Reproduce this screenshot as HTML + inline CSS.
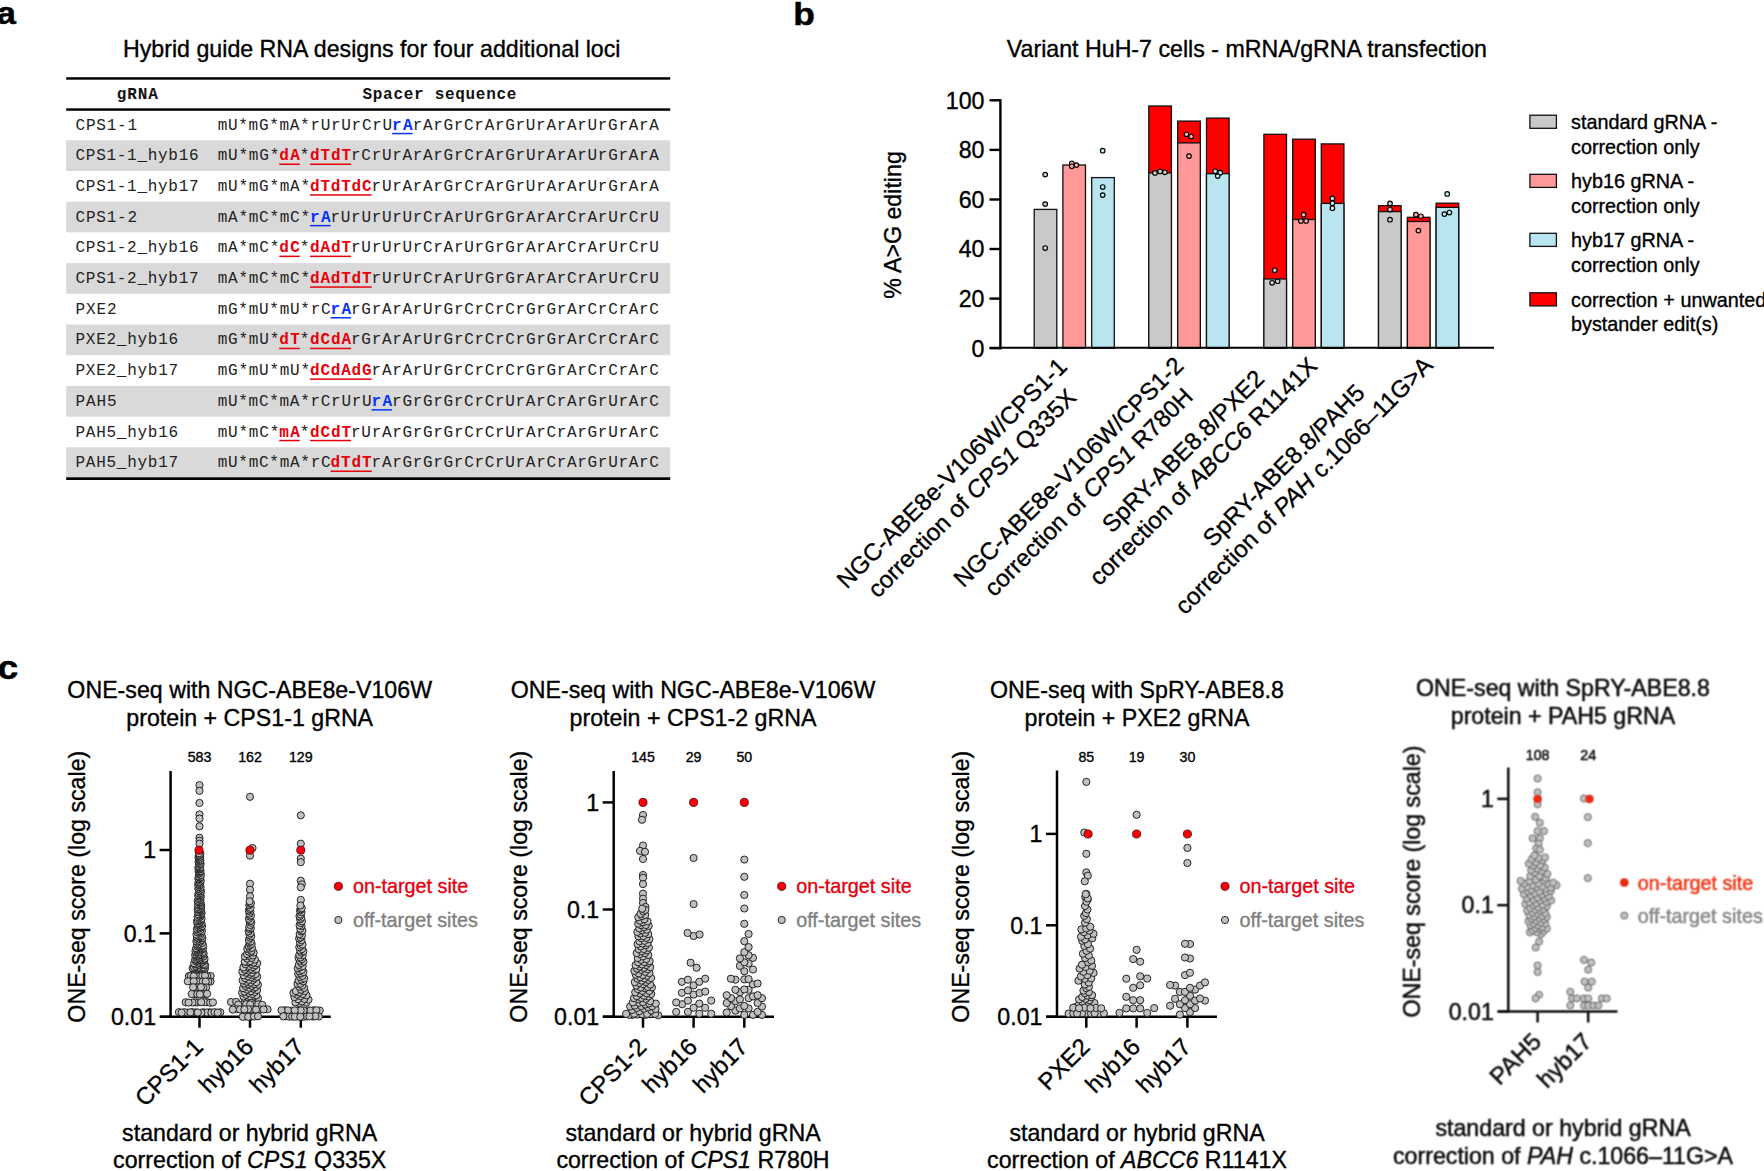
<!DOCTYPE html>
<html lang="en"><head><meta charset="utf-8"><title>Hybrid guide RNA designs</title>
<style>html,body{margin:0;padding:0;background:#fff;overflow:hidden}body{width:1764px;height:1171px}svg text{white-space:pre}.bl text{stroke-width:0.55px}</style></head>
<body>
<svg width="1764" height="1171" viewBox="0 0 1764 1171" font-family="Liberation Sans, Arial, Helvetica, sans-serif" style="display:block">
<defs><filter id="bl" x="-5%" y="-5%" width="110%" height="110%"><feConvolveMatrix order="3" kernelMatrix="1 2 1 2 5 2 1 2 1" divisor="17" edgeMode="none" preserveAlpha="false"/></filter></defs>
<rect width="1764" height="1171" fill="#fff"/>
<text transform="translate(-3.3 24.2) scale(1.13 1)" font-size="30.5" font-weight="bold" stroke="#000" stroke-width="0.5">a</text>
<text transform="translate(793.2 24.8) scale(1.13 1)" font-size="31.3" font-weight="bold" stroke="#000" stroke-width="0.5">b</text>
<text transform="translate(-2.6 678.9) scale(1.13 1)" font-size="33" font-weight="bold" stroke="#000" stroke-width="0.5">c</text>
<text x="123" y="56.9" font-size="23.2" text-anchor="start" fill="#000" stroke="#000" stroke-width="0.35" >Hybrid guide RNA designs for four additional loci</text>
<g font-family="Liberation Mono, Courier New, monospace" font-size="16.0">
<rect x="66.2" y="140.3" width="604.0" height="30.7" fill="#d9d9d9"/>
<rect x="66.2" y="201.7" width="604.0" height="30.7" fill="#d9d9d9"/>
<rect x="66.2" y="263.1" width="604.0" height="30.7" fill="#d9d9d9"/>
<rect x="66.2" y="324.5" width="604.0" height="30.7" fill="#d9d9d9"/>
<rect x="66.2" y="385.9" width="604.0" height="30.7" fill="#d9d9d9"/>
<rect x="66.2" y="447.3" width="604.0" height="30.7" fill="#d9d9d9"/>
<rect x="66.2" y="77.2" width="604.0" height="2.5" fill="#000"/>
<rect x="66.2" y="108.3" width="604.0" height="2.5" fill="#000"/>
<rect x="66.2" y="477.3" width="604.0" height="2.7" fill="#000"/>
<text x="116.8" y="98.6" font-weight="bold" textLength="41.04" fill="#111">gRNA</text>
<text x="362.5" y="98.6" font-weight="bold" textLength="153.90" fill="#111">Spacer sequence</text>
<text x="75.5" y="129.5" fill="#222" textLength="61.56">CPS1-1</text>
<text x="217.70" y="129.5" fill="#222" textLength="174.42">mU*mG*mA*rUrUrCrU</text>
<text x="392.12" y="129.5" fill="#0433ff" font-weight="bold" textLength="20.52">rA</text>
<rect x="392.12"  y="132.8" width="20.52" height="1.5" fill="#0433ff"/>
<text x="412.64" y="129.5" fill="#222" textLength="246.24">rArGrCrArGrUrArArUrGrArA</text>
<text x="75.5" y="160.2" fill="#222" textLength="123.12">CPS1-1_hyb16</text>
<text x="217.70" y="160.2" fill="#222" textLength="61.56">mU*mG*</text>
<text x="279.26" y="160.2" fill="#e8000b" font-weight="bold" textLength="20.52">dA</text>
<rect x="279.26"  y="163.5" width="20.52" height="1.5" fill="#e8000b"/>
<text x="299.78" y="160.2" fill="#222" textLength="10.26">*</text>
<text x="310.04" y="160.2" fill="#e8000b" font-weight="bold" textLength="41.04">dTdT</text>
<rect x="310.04"  y="163.5" width="41.04" height="1.5" fill="#e8000b"/>
<text x="351.08" y="160.2" fill="#222" textLength="307.80">rCrUrArArGrCrArGrUrArArUrGrArA</text>
<text x="75.5" y="190.9" fill="#222" textLength="123.12">CPS1-1_hyb17</text>
<text x="217.70" y="190.9" fill="#222" textLength="92.34">mU*mG*mA*</text>
<text x="310.04" y="190.9" fill="#e8000b" font-weight="bold" textLength="61.56">dTdTdC</text>
<rect x="310.04"  y="194.2" width="61.56" height="1.5" fill="#e8000b"/>
<text x="371.60" y="190.9" fill="#222" textLength="287.28">rUrArArGrCrArGrUrArArUrGrArA</text>
<text x="75.5" y="221.6" fill="#222" textLength="61.56">CPS1-2</text>
<text x="217.70" y="221.6" fill="#222" textLength="92.34">mA*mC*mC*</text>
<text x="310.04" y="221.6" fill="#0433ff" font-weight="bold" textLength="20.52">rA</text>
<rect x="310.04"  y="224.9" width="20.52" height="1.5" fill="#0433ff"/>
<text x="330.56" y="221.6" fill="#222" textLength="328.32">rUrUrUrUrCrArUrGrGrArArCrArUrCrU</text>
<text x="75.5" y="252.3" fill="#222" textLength="123.12">CPS1-2_hyb16</text>
<text x="217.70" y="252.3" fill="#222" textLength="61.56">mA*mC*</text>
<text x="279.26" y="252.3" fill="#e8000b" font-weight="bold" textLength="20.52">dC</text>
<rect x="279.26"  y="255.6" width="20.52" height="1.5" fill="#e8000b"/>
<text x="299.78" y="252.3" fill="#222" textLength="10.26">*</text>
<text x="310.04" y="252.3" fill="#e8000b" font-weight="bold" textLength="41.04">dAdT</text>
<rect x="310.04"  y="255.6" width="41.04" height="1.5" fill="#e8000b"/>
<text x="351.08" y="252.3" fill="#222" textLength="307.80">rUrUrUrCrArUrGrGrArArCrArUrCrU</text>
<text x="75.5" y="283.0" fill="#222" textLength="123.12">CPS1-2_hyb17</text>
<text x="217.70" y="283.0" fill="#222" textLength="92.34">mA*mC*mC*</text>
<text x="310.04" y="283.0" fill="#e8000b" font-weight="bold" textLength="61.56">dAdTdT</text>
<rect x="310.04"  y="286.3" width="61.56" height="1.5" fill="#e8000b"/>
<text x="371.60" y="283.0" fill="#222" textLength="287.28">rUrUrCrArUrGrGrArArCrArUrCrU</text>
<text x="75.5" y="313.7" fill="#222" textLength="41.04">PXE2</text>
<text x="217.70" y="313.7" fill="#222" textLength="112.86">mG*mU*mU*rC</text>
<text x="330.56" y="313.7" fill="#0433ff" font-weight="bold" textLength="20.52">rA</text>
<rect x="330.56"  y="317.0" width="20.52" height="1.5" fill="#0433ff"/>
<text x="351.08" y="313.7" fill="#222" textLength="307.80">rGrArArUrGrCrCrCrGrGrArCrCrArC</text>
<text x="75.5" y="344.4" fill="#222" textLength="102.60">PXE2_hyb16</text>
<text x="217.70" y="344.4" fill="#222" textLength="61.56">mG*mU*</text>
<text x="279.26" y="344.4" fill="#e8000b" font-weight="bold" textLength="20.52">dT</text>
<rect x="279.26"  y="347.7" width="20.52" height="1.5" fill="#e8000b"/>
<text x="299.78" y="344.4" fill="#222" textLength="10.26">*</text>
<text x="310.04" y="344.4" fill="#e8000b" font-weight="bold" textLength="41.04">dCdA</text>
<rect x="310.04"  y="347.7" width="41.04" height="1.5" fill="#e8000b"/>
<text x="351.08" y="344.4" fill="#222" textLength="307.80">rGrArArUrGrCrCrCrGrGrArCrCrArC</text>
<text x="75.5" y="375.1" fill="#222" textLength="102.60">PXE2_hyb17</text>
<text x="217.70" y="375.1" fill="#222" textLength="92.34">mG*mU*mU*</text>
<text x="310.04" y="375.1" fill="#e8000b" font-weight="bold" textLength="61.56">dCdAdG</text>
<rect x="310.04"  y="378.4" width="61.56" height="1.5" fill="#e8000b"/>
<text x="371.60" y="375.1" fill="#222" textLength="287.28">rArArUrGrCrCrCrGrGrArCrCrArC</text>
<text x="75.5" y="405.8" fill="#222" textLength="41.04">PAH5</text>
<text x="217.70" y="405.8" fill="#222" textLength="153.90">mU*mC*mA*rCrUrU</text>
<text x="371.60" y="405.8" fill="#0433ff" font-weight="bold" textLength="20.52">rA</text>
<rect x="371.60"  y="409.1" width="20.52" height="1.5" fill="#0433ff"/>
<text x="392.12" y="405.8" fill="#222" textLength="266.76">rGrGrGrCrCrUrArCrArGrUrArC</text>
<text x="75.5" y="436.5" fill="#222" textLength="102.60">PAH5_hyb16</text>
<text x="217.70" y="436.5" fill="#222" textLength="61.56">mU*mC*</text>
<text x="279.26" y="436.5" fill="#e8000b" font-weight="bold" textLength="20.52">mA</text>
<rect x="279.26"  y="439.8" width="20.52" height="1.5" fill="#e8000b"/>
<text x="299.78" y="436.5" fill="#222" textLength="10.26">*</text>
<text x="310.04" y="436.5" fill="#e8000b" font-weight="bold" textLength="41.04">dCdT</text>
<rect x="310.04"  y="439.8" width="41.04" height="1.5" fill="#e8000b"/>
<text x="351.08" y="436.5" fill="#222" textLength="307.80">rUrArGrGrGrCrCrUrArCrArGrUrArC</text>
<text x="75.5" y="467.2" fill="#222" textLength="102.60">PAH5_hyb17</text>
<text x="217.70" y="467.2" fill="#222" textLength="112.86">mU*mC*mA*rC</text>
<text x="330.56" y="467.2" fill="#e8000b" font-weight="bold" textLength="41.04">dTdT</text>
<rect x="330.56"  y="470.5" width="41.04" height="1.5" fill="#e8000b"/>
<text x="371.60" y="467.2" fill="#222" textLength="287.28">rArGrGrGrCrCrUrArCrArGrUrArC</text>
</g>
<text x="1006.8" y="56.9" font-size="23.2" text-anchor="start" fill="#000" stroke="#000" stroke-width="0.35" >Variant HuH-7 cells - mRNA/gRNA transfection</text>
<line x1="989.5" y1="348.2" x2="1000.4" y2="348.2" stroke="#000" stroke-width="2.4"/>
<text x="984.5" y="356.5" font-size="23.2" text-anchor="end" fill="#000" stroke="#000" stroke-width="0.35" >0</text>
<line x1="989.5" y1="298.6" x2="1000.4" y2="298.6" stroke="#000" stroke-width="2.4"/>
<text x="984.5" y="306.92" font-size="23.2" text-anchor="end" fill="#000" stroke="#000" stroke-width="0.35" >20</text>
<line x1="989.5" y1="249.0" x2="1000.4" y2="249.0" stroke="#000" stroke-width="2.4"/>
<text x="984.5" y="257.34" font-size="23.2" text-anchor="end" fill="#000" stroke="#000" stroke-width="0.35" >40</text>
<line x1="989.5" y1="199.5" x2="1000.4" y2="199.5" stroke="#000" stroke-width="2.4"/>
<text x="984.5" y="207.76" font-size="23.2" text-anchor="end" fill="#000" stroke="#000" stroke-width="0.35" >60</text>
<line x1="989.5" y1="149.9" x2="1000.4" y2="149.9" stroke="#000" stroke-width="2.4"/>
<text x="984.5" y="158.18" font-size="23.2" text-anchor="end" fill="#000" stroke="#000" stroke-width="0.35" >80</text>
<line x1="989.5" y1="100.3" x2="1000.4" y2="100.3" stroke="#000" stroke-width="2.4"/>
<text x="984.5" y="108.59999999999998" font-size="23.2" text-anchor="end" fill="#000" stroke="#000" stroke-width="0.35" >100</text>
<text x="901" y="225" font-size="23.2" text-anchor="middle" fill="#000" stroke="#000" stroke-width="0.35" transform="rotate(-90 901 225)" >% A&gt;G editing</text>
<rect x="1034.2" y="209.4" width="22.6" height="138.8" fill="#c9c9c9" stroke="#111" stroke-width="1.3"/>
<rect x="1062.9" y="165.0" width="22.6" height="183.2" fill="#ff9896" stroke="#111" stroke-width="1.3"/>
<rect x="1091.7" y="177.6" width="22.6" height="170.6" fill="#b9e5f0" stroke="#111" stroke-width="1.3"/>
<rect x="1148.8" y="106.0" width="22.6" height="242.2" fill="#ff0000" stroke="#111" stroke-width="1.3"/>
<rect x="1148.8" y="172.9" width="22.6" height="175.3" fill="#c9c9c9" stroke="#111" stroke-width="1.3"/>
<rect x="1177.7" y="121.1" width="22.6" height="227.1" fill="#ff0000" stroke="#111" stroke-width="1.3"/>
<rect x="1177.7" y="142.9" width="22.6" height="205.3" fill="#ff9896" stroke="#111" stroke-width="1.3"/>
<rect x="1206.5" y="118.1" width="22.6" height="230.1" fill="#ff0000" stroke="#111" stroke-width="1.3"/>
<rect x="1206.5" y="173.7" width="22.6" height="174.5" fill="#b9e5f0" stroke="#111" stroke-width="1.3"/>
<rect x="1263.9" y="134.3" width="22.6" height="213.9" fill="#ff0000" stroke="#111" stroke-width="1.3"/>
<rect x="1263.9" y="279.0" width="22.6" height="69.2" fill="#c9c9c9" stroke="#111" stroke-width="1.3"/>
<rect x="1292.7" y="139.2" width="22.6" height="209.0" fill="#ff0000" stroke="#111" stroke-width="1.3"/>
<rect x="1292.7" y="219.5" width="22.6" height="128.7" fill="#ff9896" stroke="#111" stroke-width="1.3"/>
<rect x="1321.3" y="143.9" width="22.6" height="204.3" fill="#ff0000" stroke="#111" stroke-width="1.3"/>
<rect x="1321.3" y="203.4" width="22.6" height="144.8" fill="#b9e5f0" stroke="#111" stroke-width="1.3"/>
<rect x="1378.5" y="205.7" width="22.6" height="142.5" fill="#ff0000" stroke="#111" stroke-width="1.3"/>
<rect x="1378.5" y="211.6" width="22.6" height="136.6" fill="#c9c9c9" stroke="#111" stroke-width="1.3"/>
<rect x="1407.4" y="217.3" width="22.6" height="130.9" fill="#ff0000" stroke="#111" stroke-width="1.3"/>
<rect x="1407.4" y="221.5" width="22.6" height="126.7" fill="#ff9896" stroke="#111" stroke-width="1.3"/>
<rect x="1436.1" y="203.2" width="22.6" height="145.0" fill="#ff0000" stroke="#111" stroke-width="1.3"/>
<rect x="1436.1" y="207.4" width="22.6" height="140.8" fill="#b9e5f0" stroke="#111" stroke-width="1.3"/>
<circle cx="1045.2" cy="174.6" r="2.3" fill="#d0d0d0" stroke="#000" stroke-width="1.15"/>
<circle cx="1045.2" cy="204.1" r="2.3" fill="#d0d0d0" stroke="#000" stroke-width="1.15"/>
<circle cx="1045.2" cy="248.0" r="2.3" fill="#d0d0d0" stroke="#000" stroke-width="1.15"/>
<circle cx="1155" cy="172.9" r="2.3" fill="#d0d0d0" stroke="#000" stroke-width="1.15"/>
<circle cx="1160.1" cy="171.4" r="2.3" fill="#d0d0d0" stroke="#000" stroke-width="1.15"/>
<circle cx="1164.9" cy="172.3" r="2.3" fill="#d0d0d0" stroke="#000" stroke-width="1.15"/>
<circle cx="1274.8" cy="270.3" r="2.3" fill="#d0d0d0" stroke="#000" stroke-width="1.15"/>
<circle cx="1272.1" cy="282.8" r="2.3" fill="#d0d0d0" stroke="#000" stroke-width="1.15"/>
<circle cx="1277.6" cy="281.2" r="2.3" fill="#d0d0d0" stroke="#000" stroke-width="1.15"/>
<circle cx="1390" cy="203.4" r="2.3" fill="#d0d0d0" stroke="#000" stroke-width="1.15"/>
<circle cx="1390" cy="209.5" r="2.3" fill="#d0d0d0" stroke="#000" stroke-width="1.15"/>
<circle cx="1390" cy="219.7" r="2.3" fill="#d0d0d0" stroke="#000" stroke-width="1.15"/>
<circle cx="1071.8" cy="163.3" r="2.3" fill="#ffa9a8" stroke="#000" stroke-width="1.15"/>
<circle cx="1076.4" cy="165.1" r="2.3" fill="#ffa9a8" stroke="#000" stroke-width="1.15"/>
<circle cx="1071.8" cy="166.3" r="2.3" fill="#ffa9a8" stroke="#000" stroke-width="1.15"/>
<circle cx="1186.5" cy="134.3" r="2.3" fill="#ffa9a8" stroke="#000" stroke-width="1.15"/>
<circle cx="1191.2" cy="136.5" r="2.3" fill="#ffa9a8" stroke="#000" stroke-width="1.15"/>
<circle cx="1189" cy="156.1" r="2.3" fill="#ffa9a8" stroke="#000" stroke-width="1.15"/>
<circle cx="1303.6" cy="214.7" r="2.3" fill="#ffa9a8" stroke="#000" stroke-width="1.15"/>
<circle cx="1300.9" cy="220.9" r="2.3" fill="#ffa9a8" stroke="#000" stroke-width="1.15"/>
<circle cx="1306.1" cy="220.9" r="2.3" fill="#ffa9a8" stroke="#000" stroke-width="1.15"/>
<circle cx="1415.9" cy="214.7" r="2.3" fill="#ffa9a8" stroke="#000" stroke-width="1.15"/>
<circle cx="1420.9" cy="216.3" r="2.3" fill="#ffa9a8" stroke="#000" stroke-width="1.15"/>
<circle cx="1418.4" cy="230.6" r="2.3" fill="#ffa9a8" stroke="#000" stroke-width="1.15"/>
<circle cx="1102.7" cy="150.7" r="2.3" fill="#c8ebf5" stroke="#000" stroke-width="1.15"/>
<circle cx="1102.7" cy="187" r="2.3" fill="#c8ebf5" stroke="#000" stroke-width="1.15"/>
<circle cx="1102.7" cy="195.1" r="2.3" fill="#c8ebf5" stroke="#000" stroke-width="1.15"/>
<circle cx="1215.2" cy="171.3" r="2.3" fill="#c8ebf5" stroke="#000" stroke-width="1.15"/>
<circle cx="1220.2" cy="172.7" r="2.3" fill="#c8ebf5" stroke="#000" stroke-width="1.15"/>
<circle cx="1217.7" cy="176.1" r="2.3" fill="#c8ebf5" stroke="#000" stroke-width="1.15"/>
<circle cx="1332.4" cy="198.4" r="2.3" fill="#c8ebf5" stroke="#000" stroke-width="1.15"/>
<circle cx="1332.4" cy="203.2" r="2.3" fill="#c8ebf5" stroke="#000" stroke-width="1.15"/>
<circle cx="1332.4" cy="208.2" r="2.3" fill="#c8ebf5" stroke="#000" stroke-width="1.15"/>
<circle cx="1444.4" cy="214.1" r="2.3" fill="#c8ebf5" stroke="#000" stroke-width="1.15"/>
<circle cx="1449.4" cy="212.5" r="2.3" fill="#c8ebf5" stroke="#000" stroke-width="1.15"/>
<circle cx="1447.2" cy="193.9" r="2.3" fill="#c8ebf5" stroke="#000" stroke-width="1.15"/>
<line x1="1000.4" y1="99.1" x2="1000.4" y2="349.4" stroke="#000" stroke-width="2.4"/>
<line x1="989.5" y1="347.7" x2="1494" y2="347.7" stroke="#000" stroke-width="2.1"/>
<rect x="1529.9" y="115.19999999999999" width="26.5" height="13.1" fill="#c9c9c9" stroke="#111" stroke-width="1.3"/>
<text x="1571" y="129.1" font-size="19.8" text-anchor="start" fill="#000" stroke="#000" stroke-width="0.35" >standard gRNA -</text>
<text x="1571" y="153.7" font-size="19.8" text-anchor="start" fill="#000" stroke="#000" stroke-width="0.35" >correction only</text>
<rect x="1529.9" y="174.29999999999998" width="26.5" height="13.1" fill="#ff9896" stroke="#111" stroke-width="1.3"/>
<text x="1571" y="188.2" font-size="19.8" text-anchor="start" fill="#000" stroke="#000" stroke-width="0.35" >hyb16 gRNA -</text>
<text x="1571" y="212.79999999999998" font-size="19.8" text-anchor="start" fill="#000" stroke="#000" stroke-width="0.35" >correction only</text>
<rect x="1529.9" y="233.29999999999998" width="26.5" height="13.1" fill="#b9e5f0" stroke="#111" stroke-width="1.3"/>
<text x="1571" y="247.2" font-size="19.8" text-anchor="start" fill="#000" stroke="#000" stroke-width="0.35" >hyb17 gRNA -</text>
<text x="1571" y="271.8" font-size="19.8" text-anchor="start" fill="#000" stroke="#000" stroke-width="0.35" >correction only</text>
<rect x="1529.9" y="292.8" width="26.5" height="13.1" fill="#ff0000" stroke="#111" stroke-width="1.3"/>
<text x="1571" y="306.7" font-size="19.8" text-anchor="start" fill="#000" stroke="#000" stroke-width="0.35" >correction + unwanted</text>
<text x="1571" y="331.3" font-size="19.8" text-anchor="start" fill="#000" stroke="#000" stroke-width="0.35" >bystander edit(s)</text>
<g transform="translate(1068.4 368.1) rotate(-45)" font-size="24" text-anchor="middle" stroke="#000" stroke-width="0.35">
<text x="-156.7" y="0">NGC-ABE8e-V106W/CPS1-1</text>
<text x="-156.7" y="28.4">correction of <tspan font-style="italic">CPS1</tspan> Q335X</text>
</g>
<g transform="translate(1185.0 367.0) rotate(-45)" font-size="24" text-anchor="middle" stroke="#000" stroke-width="0.35">
<text x="-156.7" y="0">NGC-ABE8e-V106W/CPS1-2</text>
<text x="-156.7" y="28.4">correction of <tspan font-style="italic">CPS1</tspan> R780H</text>
</g>
<g transform="translate(1298.6 347.3) rotate(-45)" font-size="24" text-anchor="middle" stroke="#000" stroke-width="0.35">
<text x="-155.2" y="0">SpRY-ABE8.8/PXE2</text>
<text x="-155.2" y="28.4">correction of <tspan font-style="italic">ABCC6</tspan> R1141X</text>
</g>
<g transform="translate(1413.9 346.7) rotate(-45)" font-size="24" text-anchor="middle" stroke="#000" stroke-width="0.35">
<text x="-176.0" y="0">SpRY-ABE8.8/PAH5</text>
<text x="-176.0" y="28.4">correction of <tspan font-style="italic">PAH</tspan> c.1066–11G&gt;A</text>
</g>
<g>
<text x="249.7" y="698" font-size="23.2" text-anchor="middle" fill="#000" stroke="#000" stroke-width="0.35" >ONE-seq with NGC-ABE8e-V106W</text>
<text x="249.7" y="725.8" font-size="23.2" text-anchor="middle" fill="#000" stroke="#000" stroke-width="0.35" >protein + CPS1-1 gRNA</text>
<text x="199.5" y="762" font-size="14.2" text-anchor="middle" fill="#000" stroke="#000" stroke-width="0.35" >583</text>
<text x="250.0" y="762" font-size="14.2" text-anchor="middle" fill="#000" stroke="#000" stroke-width="0.35" >162</text>
<text x="300.8" y="762" font-size="14.2" text-anchor="middle" fill="#000" stroke="#000" stroke-width="0.35" >129</text>
<text x="85" y="886.7" font-size="23.2" text-anchor="middle" fill="#000" stroke="#000" stroke-width="0.35" transform="rotate(-90 85 886.7)" >ONE-seq score (log scale)</text>
<line x1="159.6" y1="850.0" x2="170.6" y2="850.0" stroke="#000" stroke-width="2.5"/>
<text x="156.1" y="858.2" font-size="23.2" text-anchor="end" fill="#000" stroke="#000" stroke-width="0.35" >1</text>
<line x1="159.6" y1="933.4" x2="170.6" y2="933.4" stroke="#000" stroke-width="2.5"/>
<text x="156.1" y="941.6" font-size="23.2" text-anchor="end" fill="#000" stroke="#000" stroke-width="0.35" >0.1</text>
<line x1="159.6" y1="1016.8" x2="170.6" y2="1016.8" stroke="#000" stroke-width="2.5"/>
<text x="156.1" y="1025.0" font-size="23.2" text-anchor="end" fill="#000" stroke="#000" stroke-width="0.35" >0.01</text>
<line x1="170.6" y1="771" x2="170.6" y2="1017.95" stroke="#000" stroke-width="2.5"/>
<line x1="160.2" y1="1016.7" x2="330.8" y2="1016.7" stroke="#000" stroke-width="2.5"/>
<line x1="199.5" y1="1016.7" x2="199.5" y2="1027.7" stroke="#000" stroke-width="2.5"/>
<line x1="250.0" y1="1016.7" x2="250.0" y2="1027.7" stroke="#000" stroke-width="2.5"/>
<line x1="300.8" y1="1016.7" x2="300.8" y2="1027.7" stroke="#000" stroke-width="2.5"/>
<circle cx="199.5" cy="785.1" r="3.6" fill="#c0c0c0" stroke="#1a1a1a" stroke-width="0.95"/>
<circle cx="199.5" cy="790.8" r="3.6" fill="#c0c0c0" stroke="#1a1a1a" stroke-width="0.95"/>
<circle cx="199.5" cy="803.0" r="3.6" fill="#c0c0c0" stroke="#1a1a1a" stroke-width="0.95"/>
<circle cx="199.5" cy="814.4" r="3.6" fill="#c0c0c0" stroke="#1a1a1a" stroke-width="0.95"/>
<circle cx="199.5" cy="818.6" r="3.6" fill="#c0c0c0" stroke="#1a1a1a" stroke-width="0.95"/>
<circle cx="199.5" cy="826.3" r="3.6" fill="#c0c0c0" stroke="#1a1a1a" stroke-width="0.95"/>
<circle cx="199.5" cy="837.7" r="3.6" fill="#c0c0c0" stroke="#1a1a1a" stroke-width="0.95"/>
<circle cx="199.5" cy="840.7" r="3.6" fill="#c0c0c0" stroke="#1a1a1a" stroke-width="0.95"/>
<circle cx="199.5" cy="843.7" r="3.6" fill="#c0c0c0" stroke="#1a1a1a" stroke-width="0.95"/>
<circle cx="197.2" cy="971.6" r="3.6" fill="#c0c0c0" stroke="#1a1a1a" stroke-width="0.95"/>
<circle cx="193.9" cy="971.3" r="3.6" fill="#c0c0c0" stroke="#1a1a1a" stroke-width="0.95"/>
<circle cx="202.5" cy="971.1" r="3.6" fill="#c0c0c0" stroke="#1a1a1a" stroke-width="0.95"/>
<circle cx="199.2" cy="970.6" r="3.6" fill="#c0c0c0" stroke="#1a1a1a" stroke-width="0.95"/>
<circle cx="198.1" cy="970.1" r="3.6" fill="#c0c0c0" stroke="#1a1a1a" stroke-width="0.95"/>
<circle cx="203.0" cy="969.8" r="3.6" fill="#c0c0c0" stroke="#1a1a1a" stroke-width="0.95"/>
<circle cx="195.1" cy="969.6" r="3.6" fill="#c0c0c0" stroke="#1a1a1a" stroke-width="0.95"/>
<circle cx="195.9" cy="969.6" r="3.6" fill="#c0c0c0" stroke="#1a1a1a" stroke-width="0.95"/>
<circle cx="204.6" cy="969.5" r="3.6" fill="#c0c0c0" stroke="#1a1a1a" stroke-width="0.95"/>
<circle cx="199.9" cy="968.9" r="3.6" fill="#c0c0c0" stroke="#1a1a1a" stroke-width="0.95"/>
<circle cx="197.0" cy="968.4" r="3.6" fill="#c0c0c0" stroke="#1a1a1a" stroke-width="0.95"/>
<circle cx="201.3" cy="968.4" r="3.6" fill="#c0c0c0" stroke="#1a1a1a" stroke-width="0.95"/>
<circle cx="192.6" cy="968.2" r="3.6" fill="#c0c0c0" stroke="#1a1a1a" stroke-width="0.95"/>
<circle cx="204.8" cy="967.9" r="3.6" fill="#c0c0c0" stroke="#1a1a1a" stroke-width="0.95"/>
<circle cx="201.7" cy="967.9" r="3.6" fill="#c0c0c0" stroke="#1a1a1a" stroke-width="0.95"/>
<circle cx="198.8" cy="967.4" r="3.6" fill="#c0c0c0" stroke="#1a1a1a" stroke-width="0.95"/>
<circle cx="194.1" cy="967.3" r="3.6" fill="#c0c0c0" stroke="#1a1a1a" stroke-width="0.95"/>
<circle cx="203.5" cy="967.1" r="3.6" fill="#c0c0c0" stroke="#1a1a1a" stroke-width="0.95"/>
<circle cx="196.0" cy="966.4" r="3.6" fill="#c0c0c0" stroke="#1a1a1a" stroke-width="0.95"/>
<circle cx="200.6" cy="965.5" r="3.6" fill="#c0c0c0" stroke="#1a1a1a" stroke-width="0.95"/>
<circle cx="205.1" cy="965.2" r="3.6" fill="#c0c0c0" stroke="#1a1a1a" stroke-width="0.95"/>
<circle cx="197.8" cy="964.9" r="3.6" fill="#c0c0c0" stroke="#1a1a1a" stroke-width="0.95"/>
<circle cx="199.5" cy="964.7" r="3.6" fill="#c0c0c0" stroke="#1a1a1a" stroke-width="0.95"/>
<circle cx="202.3" cy="964.5" r="3.6" fill="#c0c0c0" stroke="#1a1a1a" stroke-width="0.95"/>
<circle cx="203.9" cy="964.3" r="3.6" fill="#c0c0c0" stroke="#1a1a1a" stroke-width="0.95"/>
<circle cx="195.0" cy="964.3" r="3.6" fill="#c0c0c0" stroke="#1a1a1a" stroke-width="0.95"/>
<circle cx="196.8" cy="963.9" r="3.6" fill="#c0c0c0" stroke="#1a1a1a" stroke-width="0.95"/>
<circle cx="194.2" cy="963.2" r="3.6" fill="#c0c0c0" stroke="#1a1a1a" stroke-width="0.95"/>
<circle cx="201.2" cy="963.0" r="3.6" fill="#c0c0c0" stroke="#1a1a1a" stroke-width="0.95"/>
<circle cx="198.5" cy="962.6" r="3.6" fill="#c0c0c0" stroke="#1a1a1a" stroke-width="0.95"/>
<circle cx="202.7" cy="961.7" r="3.6" fill="#c0c0c0" stroke="#1a1a1a" stroke-width="0.95"/>
<circle cx="195.9" cy="961.3" r="3.6" fill="#c0c0c0" stroke="#1a1a1a" stroke-width="0.95"/>
<circle cx="200.1" cy="960.7" r="3.6" fill="#c0c0c0" stroke="#1a1a1a" stroke-width="0.95"/>
<circle cx="197.6" cy="960.4" r="3.6" fill="#c0c0c0" stroke="#1a1a1a" stroke-width="0.95"/>
<circle cx="204.2" cy="960.3" r="3.6" fill="#c0c0c0" stroke="#1a1a1a" stroke-width="0.95"/>
<circle cx="201.7" cy="960.2" r="3.6" fill="#c0c0c0" stroke="#1a1a1a" stroke-width="0.95"/>
<circle cx="199.1" cy="959.8" r="3.6" fill="#c0c0c0" stroke="#1a1a1a" stroke-width="0.95"/>
<circle cx="195.1" cy="959.5" r="3.6" fill="#c0c0c0" stroke="#1a1a1a" stroke-width="0.95"/>
<circle cx="203.1" cy="959.5" r="3.6" fill="#c0c0c0" stroke="#1a1a1a" stroke-width="0.95"/>
<circle cx="196.7" cy="959.1" r="3.6" fill="#c0c0c0" stroke="#1a1a1a" stroke-width="0.95"/>
<circle cx="200.6" cy="958.8" r="3.6" fill="#c0c0c0" stroke="#1a1a1a" stroke-width="0.95"/>
<circle cx="204.5" cy="958.6" r="3.6" fill="#c0c0c0" stroke="#1a1a1a" stroke-width="0.95"/>
<circle cx="198.3" cy="958.1" r="3.6" fill="#c0c0c0" stroke="#1a1a1a" stroke-width="0.95"/>
<circle cx="202.1" cy="957.0" r="3.6" fill="#c0c0c0" stroke="#1a1a1a" stroke-width="0.95"/>
<circle cx="199.7" cy="956.9" r="3.6" fill="#c0c0c0" stroke="#1a1a1a" stroke-width="0.95"/>
<circle cx="195.9" cy="956.8" r="3.6" fill="#c0c0c0" stroke="#1a1a1a" stroke-width="0.95"/>
<circle cx="203.4" cy="956.3" r="3.6" fill="#c0c0c0" stroke="#1a1a1a" stroke-width="0.95"/>
<circle cx="197.4" cy="956.2" r="3.6" fill="#c0c0c0" stroke="#1a1a1a" stroke-width="0.95"/>
<circle cx="201.1" cy="955.1" r="3.6" fill="#c0c0c0" stroke="#1a1a1a" stroke-width="0.95"/>
<circle cx="195.2" cy="955.0" r="3.6" fill="#c0c0c0" stroke="#1a1a1a" stroke-width="0.95"/>
<circle cx="202.4" cy="954.7" r="3.6" fill="#c0c0c0" stroke="#1a1a1a" stroke-width="0.95"/>
<circle cx="196.7" cy="954.5" r="3.6" fill="#c0c0c0" stroke="#1a1a1a" stroke-width="0.95"/>
<circle cx="198.9" cy="954.5" r="3.6" fill="#c0c0c0" stroke="#1a1a1a" stroke-width="0.95"/>
<circle cx="200.2" cy="954.3" r="3.6" fill="#c0c0c0" stroke="#1a1a1a" stroke-width="0.95"/>
<circle cx="203.6" cy="953.4" r="3.6" fill="#c0c0c0" stroke="#1a1a1a" stroke-width="0.95"/>
<circle cx="201.5" cy="952.7" r="3.6" fill="#c0c0c0" stroke="#1a1a1a" stroke-width="0.95"/>
<circle cx="198.1" cy="952.5" r="3.6" fill="#c0c0c0" stroke="#1a1a1a" stroke-width="0.95"/>
<circle cx="202.7" cy="952.1" r="3.6" fill="#c0c0c0" stroke="#1a1a1a" stroke-width="0.95"/>
<circle cx="199.4" cy="952.0" r="3.6" fill="#c0c0c0" stroke="#1a1a1a" stroke-width="0.95"/>
<circle cx="196.0" cy="951.9" r="3.6" fill="#c0c0c0" stroke="#1a1a1a" stroke-width="0.95"/>
<circle cx="195.5" cy="950.9" r="3.6" fill="#c0c0c0" stroke="#1a1a1a" stroke-width="0.95"/>
<circle cx="197.4" cy="950.7" r="3.6" fill="#c0c0c0" stroke="#1a1a1a" stroke-width="0.95"/>
<circle cx="200.6" cy="950.5" r="3.6" fill="#c0c0c0" stroke="#1a1a1a" stroke-width="0.95"/>
<circle cx="198.7" cy="949.9" r="3.6" fill="#c0c0c0" stroke="#1a1a1a" stroke-width="0.95"/>
<circle cx="201.8" cy="949.6" r="3.6" fill="#c0c0c0" stroke="#1a1a1a" stroke-width="0.95"/>
<circle cx="196.8" cy="949.0" r="3.6" fill="#c0c0c0" stroke="#1a1a1a" stroke-width="0.95"/>
<circle cx="202.9" cy="948.7" r="3.6" fill="#c0c0c0" stroke="#1a1a1a" stroke-width="0.95"/>
<circle cx="201.0" cy="948.6" r="3.6" fill="#c0c0c0" stroke="#1a1a1a" stroke-width="0.95"/>
<circle cx="199.8" cy="948.6" r="3.6" fill="#c0c0c0" stroke="#1a1a1a" stroke-width="0.95"/>
<circle cx="198.0" cy="948.4" r="3.6" fill="#c0c0c0" stroke="#1a1a1a" stroke-width="0.95"/>
<circle cx="196.2" cy="948.1" r="3.6" fill="#c0c0c0" stroke="#1a1a1a" stroke-width="0.95"/>
<circle cx="199.1" cy="946.9" r="3.6" fill="#c0c0c0" stroke="#1a1a1a" stroke-width="0.95"/>
<circle cx="202.0" cy="946.8" r="3.6" fill="#c0c0c0" stroke="#1a1a1a" stroke-width="0.95"/>
<circle cx="197.4" cy="946.4" r="3.6" fill="#c0c0c0" stroke="#1a1a1a" stroke-width="0.95"/>
<circle cx="200.2" cy="946.0" r="3.6" fill="#c0c0c0" stroke="#1a1a1a" stroke-width="0.95"/>
<circle cx="198.5" cy="945.7" r="3.6" fill="#c0c0c0" stroke="#1a1a1a" stroke-width="0.95"/>
<circle cx="201.2" cy="945.6" r="3.6" fill="#c0c0c0" stroke="#1a1a1a" stroke-width="0.95"/>
<circle cx="203.0" cy="945.5" r="3.6" fill="#c0c0c0" stroke="#1a1a1a" stroke-width="0.95"/>
<circle cx="196.9" cy="944.1" r="3.6" fill="#c0c0c0" stroke="#1a1a1a" stroke-width="0.95"/>
<circle cx="199.6" cy="943.9" r="3.6" fill="#c0c0c0" stroke="#1a1a1a" stroke-width="0.95"/>
<circle cx="202.2" cy="943.0" r="3.6" fill="#c0c0c0" stroke="#1a1a1a" stroke-width="0.95"/>
<circle cx="197.9" cy="942.5" r="3.6" fill="#c0c0c0" stroke="#1a1a1a" stroke-width="0.95"/>
<circle cx="200.5" cy="941.7" r="3.6" fill="#c0c0c0" stroke="#1a1a1a" stroke-width="0.95"/>
<circle cx="196.4" cy="941.2" r="3.6" fill="#c0c0c0" stroke="#1a1a1a" stroke-width="0.95"/>
<circle cx="199.0" cy="940.9" r="3.6" fill="#c0c0c0" stroke="#1a1a1a" stroke-width="0.95"/>
<circle cx="201.5" cy="940.1" r="3.6" fill="#c0c0c0" stroke="#1a1a1a" stroke-width="0.95"/>
<circle cx="197.4" cy="939.6" r="3.6" fill="#c0c0c0" stroke="#1a1a1a" stroke-width="0.95"/>
<circle cx="199.9" cy="938.8" r="3.6" fill="#c0c0c0" stroke="#1a1a1a" stroke-width="0.95"/>
<circle cx="198.4" cy="938.3" r="3.6" fill="#c0c0c0" stroke="#1a1a1a" stroke-width="0.95"/>
<circle cx="202.4" cy="938.2" r="3.6" fill="#c0c0c0" stroke="#1a1a1a" stroke-width="0.95"/>
<circle cx="200.8" cy="937.0" r="3.6" fill="#c0c0c0" stroke="#1a1a1a" stroke-width="0.95"/>
<circle cx="196.9" cy="936.8" r="3.6" fill="#c0c0c0" stroke="#1a1a1a" stroke-width="0.95"/>
<circle cx="199.3" cy="936.2" r="3.6" fill="#c0c0c0" stroke="#1a1a1a" stroke-width="0.95"/>
<circle cx="201.7" cy="936.1" r="3.6" fill="#c0c0c0" stroke="#1a1a1a" stroke-width="0.95"/>
<circle cx="197.9" cy="935.5" r="3.6" fill="#c0c0c0" stroke="#1a1a1a" stroke-width="0.95"/>
<circle cx="200.2" cy="934.8" r="3.6" fill="#c0c0c0" stroke="#1a1a1a" stroke-width="0.95"/>
<circle cx="196.5" cy="934.4" r="3.6" fill="#c0c0c0" stroke="#1a1a1a" stroke-width="0.95"/>
<circle cx="201.1" cy="932.9" r="3.6" fill="#c0c0c0" stroke="#1a1a1a" stroke-width="0.95"/>
<circle cx="198.8" cy="932.8" r="3.6" fill="#c0c0c0" stroke="#1a1a1a" stroke-width="0.95"/>
<circle cx="197.4" cy="932.2" r="3.6" fill="#c0c0c0" stroke="#1a1a1a" stroke-width="0.95"/>
<circle cx="199.7" cy="931.5" r="3.6" fill="#c0c0c0" stroke="#1a1a1a" stroke-width="0.95"/>
<circle cx="201.9" cy="931.1" r="3.6" fill="#c0c0c0" stroke="#1a1a1a" stroke-width="0.95"/>
<circle cx="198.3" cy="930.8" r="3.6" fill="#c0c0c0" stroke="#1a1a1a" stroke-width="0.95"/>
<circle cx="200.5" cy="929.8" r="3.6" fill="#c0c0c0" stroke="#1a1a1a" stroke-width="0.95"/>
<circle cx="197.0" cy="928.9" r="3.6" fill="#c0c0c0" stroke="#1a1a1a" stroke-width="0.95"/>
<circle cx="199.2" cy="928.4" r="3.6" fill="#c0c0c0" stroke="#1a1a1a" stroke-width="0.95"/>
<circle cx="201.3" cy="927.3" r="3.6" fill="#c0c0c0" stroke="#1a1a1a" stroke-width="0.95"/>
<circle cx="197.9" cy="927.0" r="3.6" fill="#c0c0c0" stroke="#1a1a1a" stroke-width="0.95"/>
<circle cx="200.0" cy="926.8" r="3.6" fill="#c0c0c0" stroke="#1a1a1a" stroke-width="0.95"/>
<circle cx="202.0" cy="926.1" r="3.6" fill="#c0c0c0" stroke="#1a1a1a" stroke-width="0.95"/>
<circle cx="198.7" cy="925.2" r="3.6" fill="#c0c0c0" stroke="#1a1a1a" stroke-width="0.95"/>
<circle cx="200.7" cy="924.6" r="3.6" fill="#c0c0c0" stroke="#1a1a1a" stroke-width="0.95"/>
<circle cx="197.5" cy="923.9" r="3.6" fill="#c0c0c0" stroke="#1a1a1a" stroke-width="0.95"/>
<circle cx="201.4" cy="923.6" r="3.6" fill="#c0c0c0" stroke="#1a1a1a" stroke-width="0.95"/>
<circle cx="199.5" cy="923.3" r="3.6" fill="#c0c0c0" stroke="#1a1a1a" stroke-width="0.95"/>
<circle cx="198.3" cy="923.0" r="3.6" fill="#c0c0c0" stroke="#1a1a1a" stroke-width="0.95"/>
<circle cx="200.2" cy="921.7" r="3.6" fill="#c0c0c0" stroke="#1a1a1a" stroke-width="0.95"/>
<circle cx="197.1" cy="921.2" r="3.6" fill="#c0c0c0" stroke="#1a1a1a" stroke-width="0.95"/>
<circle cx="200.9" cy="920.5" r="3.6" fill="#c0c0c0" stroke="#1a1a1a" stroke-width="0.95"/>
<circle cx="199.0" cy="920.4" r="3.6" fill="#c0c0c0" stroke="#1a1a1a" stroke-width="0.95"/>
<circle cx="197.9" cy="919.9" r="3.6" fill="#c0c0c0" stroke="#1a1a1a" stroke-width="0.95"/>
<circle cx="199.7" cy="919.4" r="3.6" fill="#c0c0c0" stroke="#1a1a1a" stroke-width="0.95"/>
<circle cx="201.6" cy="918.4" r="3.6" fill="#c0c0c0" stroke="#1a1a1a" stroke-width="0.95"/>
<circle cx="198.6" cy="917.6" r="3.6" fill="#c0c0c0" stroke="#1a1a1a" stroke-width="0.95"/>
<circle cx="197.6" cy="916.9" r="3.6" fill="#c0c0c0" stroke="#1a1a1a" stroke-width="0.95"/>
<circle cx="200.4" cy="916.6" r="3.6" fill="#c0c0c0" stroke="#1a1a1a" stroke-width="0.95"/>
<circle cx="199.3" cy="915.8" r="3.6" fill="#c0c0c0" stroke="#1a1a1a" stroke-width="0.95"/>
<circle cx="201.0" cy="915.0" r="3.6" fill="#c0c0c0" stroke="#1a1a1a" stroke-width="0.95"/>
<circle cx="200.0" cy="914.4" r="3.6" fill="#c0c0c0" stroke="#1a1a1a" stroke-width="0.95"/>
<circle cx="198.3" cy="914.3" r="3.6" fill="#c0c0c0" stroke="#1a1a1a" stroke-width="0.95"/>
<circle cx="201.6" cy="913.0" r="3.6" fill="#c0c0c0" stroke="#1a1a1a" stroke-width="0.95"/>
<circle cx="198.9" cy="912.4" r="3.6" fill="#c0c0c0" stroke="#1a1a1a" stroke-width="0.95"/>
<circle cx="200.6" cy="911.9" r="3.6" fill="#c0c0c0" stroke="#1a1a1a" stroke-width="0.95"/>
<circle cx="198.0" cy="911.7" r="3.6" fill="#c0c0c0" stroke="#1a1a1a" stroke-width="0.95"/>
<circle cx="201.1" cy="910.7" r="3.6" fill="#c0c0c0" stroke="#1a1a1a" stroke-width="0.95"/>
<circle cx="199.6" cy="910.5" r="3.6" fill="#c0c0c0" stroke="#1a1a1a" stroke-width="0.95"/>
<circle cx="198.6" cy="909.8" r="3.6" fill="#c0c0c0" stroke="#1a1a1a" stroke-width="0.95"/>
<circle cx="197.7" cy="909.1" r="3.6" fill="#c0c0c0" stroke="#1a1a1a" stroke-width="0.95"/>
<circle cx="200.1" cy="909.0" r="3.6" fill="#c0c0c0" stroke="#1a1a1a" stroke-width="0.95"/>
<circle cx="199.2" cy="908.7" r="3.6" fill="#c0c0c0" stroke="#1a1a1a" stroke-width="0.95"/>
<circle cx="200.7" cy="907.7" r="3.6" fill="#c0c0c0" stroke="#1a1a1a" stroke-width="0.95"/>
<circle cx="198.3" cy="907.1" r="3.6" fill="#c0c0c0" stroke="#1a1a1a" stroke-width="0.95"/>
<circle cx="201.2" cy="905.9" r="3.6" fill="#c0c0c0" stroke="#1a1a1a" stroke-width="0.95"/>
<circle cx="199.8" cy="905.8" r="3.6" fill="#c0c0c0" stroke="#1a1a1a" stroke-width="0.95"/>
<circle cx="198.9" cy="905.1" r="3.6" fill="#c0c0c0" stroke="#1a1a1a" stroke-width="0.95"/>
<circle cx="200.3" cy="905.0" r="3.6" fill="#c0c0c0" stroke="#1a1a1a" stroke-width="0.95"/>
<circle cx="198.1" cy="904.3" r="3.6" fill="#c0c0c0" stroke="#1a1a1a" stroke-width="0.95"/>
<circle cx="199.4" cy="903.2" r="3.6" fill="#c0c0c0" stroke="#1a1a1a" stroke-width="0.95"/>
<circle cx="200.7" cy="902.8" r="3.6" fill="#c0c0c0" stroke="#1a1a1a" stroke-width="0.95"/>
<circle cx="198.6" cy="902.2" r="3.6" fill="#c0c0c0" stroke="#1a1a1a" stroke-width="0.95"/>
<circle cx="199.9" cy="901.7" r="3.6" fill="#c0c0c0" stroke="#1a1a1a" stroke-width="0.95"/>
<circle cx="199.2" cy="900.8" r="3.6" fill="#c0c0c0" stroke="#1a1a1a" stroke-width="0.95"/>
<circle cx="197.9" cy="900.7" r="3.6" fill="#c0c0c0" stroke="#1a1a1a" stroke-width="0.95"/>
<circle cx="200.4" cy="899.7" r="3.6" fill="#c0c0c0" stroke="#1a1a1a" stroke-width="0.95"/>
<circle cx="198.4" cy="899.1" r="3.6" fill="#c0c0c0" stroke="#1a1a1a" stroke-width="0.95"/>
<circle cx="199.6" cy="898.2" r="3.6" fill="#c0c0c0" stroke="#1a1a1a" stroke-width="0.95"/>
<circle cx="200.8" cy="896.7" r="3.6" fill="#c0c0c0" stroke="#1a1a1a" stroke-width="0.95"/>
<circle cx="198.9" cy="896.5" r="3.6" fill="#c0c0c0" stroke="#1a1a1a" stroke-width="0.95"/>
<circle cx="200.1" cy="895.3" r="3.6" fill="#c0c0c0" stroke="#1a1a1a" stroke-width="0.95"/>
<circle cx="198.2" cy="895.2" r="3.6" fill="#c0c0c0" stroke="#1a1a1a" stroke-width="0.95"/>
<circle cx="199.3" cy="894.0" r="3.6" fill="#c0c0c0" stroke="#1a1a1a" stroke-width="0.95"/>
<circle cx="198.6" cy="893.1" r="3.6" fill="#c0c0c0" stroke="#1a1a1a" stroke-width="0.95"/>
<circle cx="200.5" cy="892.9" r="3.6" fill="#c0c0c0" stroke="#1a1a1a" stroke-width="0.95"/>
<circle cx="199.8" cy="891.5" r="3.6" fill="#c0c0c0" stroke="#1a1a1a" stroke-width="0.95"/>
<circle cx="200.9" cy="891.3" r="3.6" fill="#c0c0c0" stroke="#1a1a1a" stroke-width="0.95"/>
<circle cx="199.1" cy="890.7" r="3.6" fill="#c0c0c0" stroke="#1a1a1a" stroke-width="0.95"/>
<circle cx="200.2" cy="889.5" r="3.6" fill="#c0c0c0" stroke="#1a1a1a" stroke-width="0.95"/>
<circle cx="198.4" cy="888.7" r="3.6" fill="#c0c0c0" stroke="#1a1a1a" stroke-width="0.95"/>
<circle cx="199.5" cy="887.6" r="3.6" fill="#c0c0c0" stroke="#1a1a1a" stroke-width="0.95"/>
<circle cx="200.6" cy="887.3" r="3.6" fill="#c0c0c0" stroke="#1a1a1a" stroke-width="0.95"/>
<circle cx="198.8" cy="886.6" r="3.6" fill="#c0c0c0" stroke="#1a1a1a" stroke-width="0.95"/>
<circle cx="199.9" cy="885.3" r="3.6" fill="#c0c0c0" stroke="#1a1a1a" stroke-width="0.95"/>
<circle cx="198.2" cy="884.7" r="3.6" fill="#c0c0c0" stroke="#1a1a1a" stroke-width="0.95"/>
<circle cx="199.3" cy="884.0" r="3.6" fill="#c0c0c0" stroke="#1a1a1a" stroke-width="0.95"/>
<circle cx="200.3" cy="882.9" r="3.6" fill="#c0c0c0" stroke="#1a1a1a" stroke-width="0.95"/>
<circle cx="198.6" cy="882.3" r="3.6" fill="#c0c0c0" stroke="#1a1a1a" stroke-width="0.95"/>
<circle cx="199.7" cy="881.8" r="3.6" fill="#c0c0c0" stroke="#1a1a1a" stroke-width="0.95"/>
<circle cx="200.7" cy="880.5" r="3.6" fill="#c0c0c0" stroke="#1a1a1a" stroke-width="0.95"/>
<circle cx="199.0" cy="879.5" r="3.6" fill="#c0c0c0" stroke="#1a1a1a" stroke-width="0.95"/>
<circle cx="200.0" cy="878.7" r="3.6" fill="#c0c0c0" stroke="#1a1a1a" stroke-width="0.95"/>
<circle cx="198.4" cy="878.5" r="3.6" fill="#c0c0c0" stroke="#1a1a1a" stroke-width="0.95"/>
<circle cx="199.4" cy="877.5" r="3.6" fill="#c0c0c0" stroke="#1a1a1a" stroke-width="0.95"/>
<circle cx="200.4" cy="877.1" r="3.6" fill="#c0c0c0" stroke="#1a1a1a" stroke-width="0.95"/>
<circle cx="198.8" cy="876.2" r="3.6" fill="#c0c0c0" stroke="#1a1a1a" stroke-width="0.95"/>
<circle cx="199.8" cy="874.9" r="3.6" fill="#c0c0c0" stroke="#1a1a1a" stroke-width="0.95"/>
<circle cx="200.8" cy="874.9" r="3.6" fill="#c0c0c0" stroke="#1a1a1a" stroke-width="0.95"/>
<circle cx="199.2" cy="873.5" r="3.6" fill="#c0c0c0" stroke="#1a1a1a" stroke-width="0.95"/>
<circle cx="200.2" cy="872.5" r="3.6" fill="#c0c0c0" stroke="#1a1a1a" stroke-width="0.95"/>
<circle cx="198.6" cy="871.8" r="3.6" fill="#c0c0c0" stroke="#1a1a1a" stroke-width="0.95"/>
<circle cx="199.6" cy="871.2" r="3.6" fill="#c0c0c0" stroke="#1a1a1a" stroke-width="0.95"/>
<circle cx="200.5" cy="871.1" r="3.6" fill="#c0c0c0" stroke="#1a1a1a" stroke-width="0.95"/>
<circle cx="199.9" cy="869.6" r="3.6" fill="#c0c0c0" stroke="#1a1a1a" stroke-width="0.95"/>
<circle cx="199.0" cy="869.3" r="3.6" fill="#c0c0c0" stroke="#1a1a1a" stroke-width="0.95"/>
<circle cx="198.4" cy="868.2" r="3.6" fill="#c0c0c0" stroke="#1a1a1a" stroke-width="0.95"/>
<circle cx="199.3" cy="867.6" r="3.6" fill="#c0c0c0" stroke="#1a1a1a" stroke-width="0.95"/>
<circle cx="200.2" cy="867.2" r="3.6" fill="#c0c0c0" stroke="#1a1a1a" stroke-width="0.95"/>
<circle cx="198.8" cy="866.1" r="3.6" fill="#c0c0c0" stroke="#1a1a1a" stroke-width="0.95"/>
<circle cx="199.7" cy="864.8" r="3.6" fill="#c0c0c0" stroke="#1a1a1a" stroke-width="0.95"/>
<circle cx="199.1" cy="864.0" r="3.6" fill="#c0c0c0" stroke="#1a1a1a" stroke-width="0.95"/>
<circle cx="200.6" cy="863.9" r="3.6" fill="#c0c0c0" stroke="#1a1a1a" stroke-width="0.95"/>
<circle cx="200.0" cy="862.7" r="3.6" fill="#c0c0c0" stroke="#1a1a1a" stroke-width="0.95"/>
<circle cx="198.6" cy="861.5" r="3.6" fill="#c0c0c0" stroke="#1a1a1a" stroke-width="0.95"/>
<circle cx="199.5" cy="860.7" r="3.6" fill="#c0c0c0" stroke="#1a1a1a" stroke-width="0.95"/>
<circle cx="200.3" cy="860.4" r="3.6" fill="#c0c0c0" stroke="#1a1a1a" stroke-width="0.95"/>
<circle cx="199.0" cy="859.1" r="3.6" fill="#c0c0c0" stroke="#1a1a1a" stroke-width="0.95"/>
<circle cx="199.8" cy="858.9" r="3.6" fill="#c0c0c0" stroke="#1a1a1a" stroke-width="0.95"/>
<circle cx="198.5" cy="857.6" r="3.6" fill="#c0c0c0" stroke="#1a1a1a" stroke-width="0.95"/>
<circle cx="199.3" cy="857.1" r="3.6" fill="#c0c0c0" stroke="#1a1a1a" stroke-width="0.95"/>
<circle cx="200.1" cy="856.6" r="3.6" fill="#c0c0c0" stroke="#1a1a1a" stroke-width="0.95"/>
<circle cx="198.8" cy="855.2" r="3.6" fill="#c0c0c0" stroke="#1a1a1a" stroke-width="0.95"/>
<circle cx="199.6" cy="855.1" r="3.6" fill="#c0c0c0" stroke="#1a1a1a" stroke-width="0.95"/>
<circle cx="200.4" cy="853.8" r="3.6" fill="#c0c0c0" stroke="#1a1a1a" stroke-width="0.95"/>
<circle cx="199.1" cy="853.2" r="3.6" fill="#c0c0c0" stroke="#1a1a1a" stroke-width="0.95"/>
<circle cx="210.6" cy="976.0" r="3.6" fill="#c0c0c0" stroke="#1a1a1a" stroke-width="0.95"/>
<circle cx="197.1" cy="975.8" r="3.6" fill="#c0c0c0" stroke="#1a1a1a" stroke-width="0.95"/>
<circle cx="199.8" cy="976.3" r="3.6" fill="#c0c0c0" stroke="#1a1a1a" stroke-width="0.95"/>
<circle cx="188.9" cy="976.1" r="3.6" fill="#c0c0c0" stroke="#1a1a1a" stroke-width="0.95"/>
<circle cx="202.4" cy="975.9" r="3.6" fill="#c0c0c0" stroke="#1a1a1a" stroke-width="0.95"/>
<circle cx="190.9" cy="975.8" r="3.6" fill="#c0c0c0" stroke="#1a1a1a" stroke-width="0.95"/>
<circle cx="207.3" cy="976.3" r="3.6" fill="#c0c0c0" stroke="#1a1a1a" stroke-width="0.95"/>
<circle cx="205.0" cy="975.8" r="3.6" fill="#c0c0c0" stroke="#1a1a1a" stroke-width="0.95"/>
<circle cx="193.7" cy="976.2" r="3.6" fill="#c0c0c0" stroke="#1a1a1a" stroke-width="0.95"/>
<circle cx="210.5" cy="981.5" r="3.6" fill="#c0c0c0" stroke="#1a1a1a" stroke-width="0.95"/>
<circle cx="208.2" cy="981.5" r="3.6" fill="#c0c0c0" stroke="#1a1a1a" stroke-width="0.95"/>
<circle cx="197.0" cy="981.4" r="3.6" fill="#c0c0c0" stroke="#1a1a1a" stroke-width="0.95"/>
<circle cx="199.5" cy="981.6" r="3.6" fill="#c0c0c0" stroke="#1a1a1a" stroke-width="0.95"/>
<circle cx="202.8" cy="981.5" r="3.6" fill="#c0c0c0" stroke="#1a1a1a" stroke-width="0.95"/>
<circle cx="191.0" cy="981.4" r="3.6" fill="#c0c0c0" stroke="#1a1a1a" stroke-width="0.95"/>
<circle cx="205.7" cy="981.5" r="3.6" fill="#c0c0c0" stroke="#1a1a1a" stroke-width="0.95"/>
<circle cx="187.8" cy="981.3" r="3.6" fill="#c0c0c0" stroke="#1a1a1a" stroke-width="0.95"/>
<circle cx="193.7" cy="981.3" r="3.6" fill="#c0c0c0" stroke="#1a1a1a" stroke-width="0.95"/>
<circle cx="195.6" cy="987.4" r="3.6" fill="#c0c0c0" stroke="#1a1a1a" stroke-width="0.95"/>
<circle cx="206.0" cy="987.4" r="3.6" fill="#c0c0c0" stroke="#1a1a1a" stroke-width="0.95"/>
<circle cx="203.2" cy="987.6" r="3.6" fill="#c0c0c0" stroke="#1a1a1a" stroke-width="0.95"/>
<circle cx="198.5" cy="987.2" r="3.6" fill="#c0c0c0" stroke="#1a1a1a" stroke-width="0.95"/>
<circle cx="200.9" cy="987.2" r="3.6" fill="#c0c0c0" stroke="#1a1a1a" stroke-width="0.95"/>
<circle cx="193.1" cy="987.3" r="3.6" fill="#c0c0c0" stroke="#1a1a1a" stroke-width="0.95"/>
<circle cx="205.3" cy="994.2" r="3.6" fill="#c0c0c0" stroke="#1a1a1a" stroke-width="0.95"/>
<circle cx="201.9" cy="994.0" r="3.6" fill="#c0c0c0" stroke="#1a1a1a" stroke-width="0.95"/>
<circle cx="207.1" cy="993.8" r="3.6" fill="#c0c0c0" stroke="#1a1a1a" stroke-width="0.95"/>
<circle cx="194.2" cy="994.0" r="3.6" fill="#c0c0c0" stroke="#1a1a1a" stroke-width="0.95"/>
<circle cx="191.7" cy="994.0" r="3.6" fill="#c0c0c0" stroke="#1a1a1a" stroke-width="0.95"/>
<circle cx="197.3" cy="994.1" r="3.6" fill="#c0c0c0" stroke="#1a1a1a" stroke-width="0.95"/>
<circle cx="199.9" cy="994.3" r="3.6" fill="#c0c0c0" stroke="#1a1a1a" stroke-width="0.95"/>
<circle cx="197.6" cy="1002.4" r="3.6" fill="#c0c0c0" stroke="#1a1a1a" stroke-width="0.95"/>
<circle cx="207.2" cy="1002.2" r="3.6" fill="#c0c0c0" stroke="#1a1a1a" stroke-width="0.95"/>
<circle cx="194.9" cy="1002.3" r="3.6" fill="#c0c0c0" stroke="#1a1a1a" stroke-width="0.95"/>
<circle cx="204.4" cy="1002.2" r="3.6" fill="#c0c0c0" stroke="#1a1a1a" stroke-width="0.95"/>
<circle cx="185.7" cy="1002.3" r="3.6" fill="#c0c0c0" stroke="#1a1a1a" stroke-width="0.95"/>
<circle cx="192.4" cy="1002.5" r="3.6" fill="#c0c0c0" stroke="#1a1a1a" stroke-width="0.95"/>
<circle cx="210.2" cy="1002.7" r="3.6" fill="#c0c0c0" stroke="#1a1a1a" stroke-width="0.95"/>
<circle cx="188.6" cy="1002.6" r="3.6" fill="#c0c0c0" stroke="#1a1a1a" stroke-width="0.95"/>
<circle cx="212.9" cy="1002.4" r="3.6" fill="#c0c0c0" stroke="#1a1a1a" stroke-width="0.95"/>
<circle cx="201.2" cy="1002.2" r="3.6" fill="#c0c0c0" stroke="#1a1a1a" stroke-width="0.95"/>
<circle cx="203.4" cy="1012.3" r="3.6" fill="#c0c0c0" stroke="#1a1a1a" stroke-width="0.95"/>
<circle cx="187.7" cy="1012.7" r="3.6" fill="#c0c0c0" stroke="#1a1a1a" stroke-width="0.95"/>
<circle cx="209.3" cy="1012.3" r="3.6" fill="#c0c0c0" stroke="#1a1a1a" stroke-width="0.95"/>
<circle cx="206.8" cy="1012.5" r="3.6" fill="#c0c0c0" stroke="#1a1a1a" stroke-width="0.95"/>
<circle cx="211.4" cy="1012.6" r="3.6" fill="#c0c0c0" stroke="#1a1a1a" stroke-width="0.95"/>
<circle cx="214.5" cy="1012.2" r="3.6" fill="#c0c0c0" stroke="#1a1a1a" stroke-width="0.95"/>
<circle cx="184.5" cy="1012.2" r="3.6" fill="#c0c0c0" stroke="#1a1a1a" stroke-width="0.95"/>
<circle cx="195.7" cy="1012.4" r="3.6" fill="#c0c0c0" stroke="#1a1a1a" stroke-width="0.95"/>
<circle cx="201.3" cy="1012.7" r="3.6" fill="#c0c0c0" stroke="#1a1a1a" stroke-width="0.95"/>
<circle cx="192.4" cy="1012.2" r="3.6" fill="#c0c0c0" stroke="#1a1a1a" stroke-width="0.95"/>
<circle cx="178.9" cy="1012.2" r="3.6" fill="#c0c0c0" stroke="#1a1a1a" stroke-width="0.95"/>
<circle cx="220.3" cy="1012.3" r="3.6" fill="#c0c0c0" stroke="#1a1a1a" stroke-width="0.95"/>
<circle cx="217.7" cy="1012.6" r="3.6" fill="#c0c0c0" stroke="#1a1a1a" stroke-width="0.95"/>
<circle cx="190.4" cy="1012.3" r="3.6" fill="#c0c0c0" stroke="#1a1a1a" stroke-width="0.95"/>
<circle cx="181.6" cy="1012.6" r="3.6" fill="#c0c0c0" stroke="#1a1a1a" stroke-width="0.95"/>
<circle cx="197.8" cy="1012.5" r="3.6" fill="#c0c0c0" stroke="#1a1a1a" stroke-width="0.95"/>
<circle cx="250.0" cy="796.8" r="3.6" fill="#c0c0c0" stroke="#1a1a1a" stroke-width="0.95"/>
<circle cx="252.5" cy="848.0" r="3.6" fill="#c0c0c0" stroke="#1a1a1a" stroke-width="0.95"/>
<circle cx="250.0" cy="855.6" r="3.6" fill="#c0c0c0" stroke="#1a1a1a" stroke-width="0.95"/>
<circle cx="250.0" cy="883.7" r="3.6" fill="#c0c0c0" stroke="#1a1a1a" stroke-width="0.95"/>
<circle cx="250.0" cy="889.7" r="3.6" fill="#c0c0c0" stroke="#1a1a1a" stroke-width="0.95"/>
<circle cx="250.0" cy="896.3" r="3.6" fill="#c0c0c0" stroke="#1a1a1a" stroke-width="0.95"/>
<circle cx="249.0" cy="1000.1" r="3.6" fill="#c0c0c0" stroke="#1a1a1a" stroke-width="0.95"/>
<circle cx="255.5" cy="1000.0" r="3.6" fill="#c0c0c0" stroke="#1a1a1a" stroke-width="0.95"/>
<circle cx="251.4" cy="999.3" r="3.6" fill="#c0c0c0" stroke="#1a1a1a" stroke-width="0.95"/>
<circle cx="245.0" cy="999.3" r="3.6" fill="#c0c0c0" stroke="#1a1a1a" stroke-width="0.95"/>
<circle cx="257.9" cy="998.3" r="3.6" fill="#c0c0c0" stroke="#1a1a1a" stroke-width="0.95"/>
<circle cx="247.5" cy="997.0" r="3.6" fill="#c0c0c0" stroke="#1a1a1a" stroke-width="0.95"/>
<circle cx="243.5" cy="996.5" r="3.6" fill="#c0c0c0" stroke="#1a1a1a" stroke-width="0.95"/>
<circle cx="253.9" cy="996.4" r="3.6" fill="#c0c0c0" stroke="#1a1a1a" stroke-width="0.95"/>
<circle cx="249.9" cy="996.2" r="3.6" fill="#c0c0c0" stroke="#1a1a1a" stroke-width="0.95"/>
<circle cx="256.3" cy="995.3" r="3.6" fill="#c0c0c0" stroke="#1a1a1a" stroke-width="0.95"/>
<circle cx="246.0" cy="994.8" r="3.6" fill="#c0c0c0" stroke="#1a1a1a" stroke-width="0.95"/>
<circle cx="252.3" cy="994.0" r="3.6" fill="#c0c0c0" stroke="#1a1a1a" stroke-width="0.95"/>
<circle cx="248.4" cy="992.9" r="3.6" fill="#c0c0c0" stroke="#1a1a1a" stroke-width="0.95"/>
<circle cx="242.1" cy="992.6" r="3.6" fill="#c0c0c0" stroke="#1a1a1a" stroke-width="0.95"/>
<circle cx="254.7" cy="992.0" r="3.6" fill="#c0c0c0" stroke="#1a1a1a" stroke-width="0.95"/>
<circle cx="244.5" cy="991.6" r="3.6" fill="#c0c0c0" stroke="#1a1a1a" stroke-width="0.95"/>
<circle cx="250.8" cy="991.1" r="3.6" fill="#c0c0c0" stroke="#1a1a1a" stroke-width="0.95"/>
<circle cx="257.1" cy="990.0" r="3.6" fill="#c0c0c0" stroke="#1a1a1a" stroke-width="0.95"/>
<circle cx="247.0" cy="989.6" r="3.6" fill="#c0c0c0" stroke="#1a1a1a" stroke-width="0.95"/>
<circle cx="253.2" cy="988.6" r="3.6" fill="#c0c0c0" stroke="#1a1a1a" stroke-width="0.95"/>
<circle cx="243.1" cy="988.1" r="3.6" fill="#c0c0c0" stroke="#1a1a1a" stroke-width="0.95"/>
<circle cx="249.4" cy="987.7" r="3.6" fill="#c0c0c0" stroke="#1a1a1a" stroke-width="0.95"/>
<circle cx="255.6" cy="987.2" r="3.6" fill="#c0c0c0" stroke="#1a1a1a" stroke-width="0.95"/>
<circle cx="245.5" cy="985.8" r="3.6" fill="#c0c0c0" stroke="#1a1a1a" stroke-width="0.95"/>
<circle cx="251.7" cy="985.7" r="3.6" fill="#c0c0c0" stroke="#1a1a1a" stroke-width="0.95"/>
<circle cx="257.9" cy="984.7" r="3.6" fill="#c0c0c0" stroke="#1a1a1a" stroke-width="0.95"/>
<circle cx="247.9" cy="984.3" r="3.6" fill="#c0c0c0" stroke="#1a1a1a" stroke-width="0.95"/>
<circle cx="254.1" cy="984.0" r="3.6" fill="#c0c0c0" stroke="#1a1a1a" stroke-width="0.95"/>
<circle cx="244.1" cy="983.4" r="3.6" fill="#c0c0c0" stroke="#1a1a1a" stroke-width="0.95"/>
<circle cx="250.3" cy="982.6" r="3.6" fill="#c0c0c0" stroke="#1a1a1a" stroke-width="0.95"/>
<circle cx="256.4" cy="982.2" r="3.6" fill="#c0c0c0" stroke="#1a1a1a" stroke-width="0.95"/>
<circle cx="246.5" cy="981.7" r="3.6" fill="#c0c0c0" stroke="#1a1a1a" stroke-width="0.95"/>
<circle cx="242.7" cy="980.4" r="3.6" fill="#c0c0c0" stroke="#1a1a1a" stroke-width="0.95"/>
<circle cx="252.6" cy="980.1" r="3.6" fill="#c0c0c0" stroke="#1a1a1a" stroke-width="0.95"/>
<circle cx="248.8" cy="979.8" r="3.6" fill="#c0c0c0" stroke="#1a1a1a" stroke-width="0.95"/>
<circle cx="245.1" cy="978.2" r="3.6" fill="#c0c0c0" stroke="#1a1a1a" stroke-width="0.95"/>
<circle cx="254.9" cy="978.2" r="3.6" fill="#c0c0c0" stroke="#1a1a1a" stroke-width="0.95"/>
<circle cx="251.1" cy="977.2" r="3.6" fill="#c0c0c0" stroke="#1a1a1a" stroke-width="0.95"/>
<circle cx="257.2" cy="976.7" r="3.6" fill="#c0c0c0" stroke="#1a1a1a" stroke-width="0.95"/>
<circle cx="247.4" cy="976.3" r="3.6" fill="#c0c0c0" stroke="#1a1a1a" stroke-width="0.95"/>
<circle cx="243.7" cy="975.3" r="3.6" fill="#c0c0c0" stroke="#1a1a1a" stroke-width="0.95"/>
<circle cx="253.4" cy="975.1" r="3.6" fill="#c0c0c0" stroke="#1a1a1a" stroke-width="0.95"/>
<circle cx="255.7" cy="974.0" r="3.6" fill="#c0c0c0" stroke="#1a1a1a" stroke-width="0.95"/>
<circle cx="249.7" cy="973.8" r="3.6" fill="#c0c0c0" stroke="#1a1a1a" stroke-width="0.95"/>
<circle cx="246.0" cy="972.7" r="3.6" fill="#c0c0c0" stroke="#1a1a1a" stroke-width="0.95"/>
<circle cx="252.0" cy="972.6" r="3.6" fill="#c0c0c0" stroke="#1a1a1a" stroke-width="0.95"/>
<circle cx="242.4" cy="971.5" r="3.6" fill="#c0c0c0" stroke="#1a1a1a" stroke-width="0.95"/>
<circle cx="248.3" cy="970.6" r="3.6" fill="#c0c0c0" stroke="#1a1a1a" stroke-width="0.95"/>
<circle cx="254.2" cy="970.3" r="3.6" fill="#c0c0c0" stroke="#1a1a1a" stroke-width="0.95"/>
<circle cx="244.7" cy="969.5" r="3.6" fill="#c0c0c0" stroke="#1a1a1a" stroke-width="0.95"/>
<circle cx="256.4" cy="969.1" r="3.6" fill="#c0c0c0" stroke="#1a1a1a" stroke-width="0.95"/>
<circle cx="250.6" cy="968.9" r="3.6" fill="#c0c0c0" stroke="#1a1a1a" stroke-width="0.95"/>
<circle cx="247.0" cy="967.4" r="3.6" fill="#c0c0c0" stroke="#1a1a1a" stroke-width="0.95"/>
<circle cx="243.4" cy="967.3" r="3.6" fill="#c0c0c0" stroke="#1a1a1a" stroke-width="0.95"/>
<circle cx="252.8" cy="967.1" r="3.6" fill="#c0c0c0" stroke="#1a1a1a" stroke-width="0.95"/>
<circle cx="249.2" cy="965.9" r="3.6" fill="#c0c0c0" stroke="#1a1a1a" stroke-width="0.95"/>
<circle cx="255.0" cy="965.3" r="3.6" fill="#c0c0c0" stroke="#1a1a1a" stroke-width="0.95"/>
<circle cx="245.6" cy="964.2" r="3.6" fill="#c0c0c0" stroke="#1a1a1a" stroke-width="0.95"/>
<circle cx="251.4" cy="963.9" r="3.6" fill="#c0c0c0" stroke="#1a1a1a" stroke-width="0.95"/>
<circle cx="257.2" cy="963.2" r="3.6" fill="#c0c0c0" stroke="#1a1a1a" stroke-width="0.95"/>
<circle cx="253.6" cy="962.5" r="3.6" fill="#c0c0c0" stroke="#1a1a1a" stroke-width="0.95"/>
<circle cx="247.9" cy="962.4" r="3.6" fill="#c0c0c0" stroke="#1a1a1a" stroke-width="0.95"/>
<circle cx="244.8" cy="961.6" r="3.6" fill="#c0c0c0" stroke="#1a1a1a" stroke-width="0.95"/>
<circle cx="250.0" cy="961.1" r="3.6" fill="#c0c0c0" stroke="#1a1a1a" stroke-width="0.95"/>
<circle cx="254.9" cy="959.6" r="3.6" fill="#c0c0c0" stroke="#1a1a1a" stroke-width="0.95"/>
<circle cx="247.2" cy="958.6" r="3.6" fill="#c0c0c0" stroke="#1a1a1a" stroke-width="0.95"/>
<circle cx="251.7" cy="957.9" r="3.6" fill="#c0c0c0" stroke="#1a1a1a" stroke-width="0.95"/>
<circle cx="244.9" cy="956.3" r="3.6" fill="#c0c0c0" stroke="#1a1a1a" stroke-width="0.95"/>
<circle cx="249.1" cy="955.8" r="3.6" fill="#c0c0c0" stroke="#1a1a1a" stroke-width="0.95"/>
<circle cx="252.9" cy="955.4" r="3.6" fill="#c0c0c0" stroke="#1a1a1a" stroke-width="0.95"/>
<circle cx="247.0" cy="954.1" r="3.6" fill="#c0c0c0" stroke="#1a1a1a" stroke-width="0.95"/>
<circle cx="253.6" cy="952.5" r="3.6" fill="#c0c0c0" stroke="#1a1a1a" stroke-width="0.95"/>
<circle cx="250.5" cy="952.4" r="3.6" fill="#c0c0c0" stroke="#1a1a1a" stroke-width="0.95"/>
<circle cx="248.7" cy="951.7" r="3.6" fill="#c0c0c0" stroke="#1a1a1a" stroke-width="0.95"/>
<circle cx="251.4" cy="950.8" r="3.6" fill="#c0c0c0" stroke="#1a1a1a" stroke-width="0.95"/>
<circle cx="247.3" cy="948.8" r="3.6" fill="#c0c0c0" stroke="#1a1a1a" stroke-width="0.95"/>
<circle cx="249.8" cy="948.6" r="3.6" fill="#c0c0c0" stroke="#1a1a1a" stroke-width="0.95"/>
<circle cx="251.9" cy="947.8" r="3.6" fill="#c0c0c0" stroke="#1a1a1a" stroke-width="0.95"/>
<circle cx="248.7" cy="946.1" r="3.6" fill="#c0c0c0" stroke="#1a1a1a" stroke-width="0.95"/>
<circle cx="250.5" cy="945.1" r="3.6" fill="#c0c0c0" stroke="#1a1a1a" stroke-width="0.95"/>
<circle cx="251.6" cy="943.9" r="3.6" fill="#c0c0c0" stroke="#1a1a1a" stroke-width="0.95"/>
<circle cx="249.6" cy="942.4" r="3.6" fill="#c0c0c0" stroke="#1a1a1a" stroke-width="0.95"/>
<circle cx="250.8" cy="941.5" r="3.6" fill="#c0c0c0" stroke="#1a1a1a" stroke-width="0.95"/>
<circle cx="248.9" cy="939.8" r="3.6" fill="#c0c0c0" stroke="#1a1a1a" stroke-width="0.95"/>
<circle cx="250.1" cy="937.8" r="3.6" fill="#c0c0c0" stroke="#1a1a1a" stroke-width="0.95"/>
<circle cx="251.2" cy="936.3" r="3.6" fill="#c0c0c0" stroke="#1a1a1a" stroke-width="0.95"/>
<circle cx="249.4" cy="934.7" r="3.6" fill="#c0c0c0" stroke="#1a1a1a" stroke-width="0.95"/>
<circle cx="250.5" cy="933.1" r="3.6" fill="#c0c0c0" stroke="#1a1a1a" stroke-width="0.95"/>
<circle cx="248.7" cy="931.3" r="3.6" fill="#c0c0c0" stroke="#1a1a1a" stroke-width="0.95"/>
<circle cx="249.8" cy="929.4" r="3.6" fill="#c0c0c0" stroke="#1a1a1a" stroke-width="0.95"/>
<circle cx="250.9" cy="928.1" r="3.6" fill="#c0c0c0" stroke="#1a1a1a" stroke-width="0.95"/>
<circle cx="249.2" cy="927.1" r="3.6" fill="#c0c0c0" stroke="#1a1a1a" stroke-width="0.95"/>
<circle cx="250.2" cy="924.9" r="3.6" fill="#c0c0c0" stroke="#1a1a1a" stroke-width="0.95"/>
<circle cx="251.2" cy="922.7" r="3.6" fill="#c0c0c0" stroke="#1a1a1a" stroke-width="0.95"/>
<circle cx="249.6" cy="921.1" r="3.6" fill="#c0c0c0" stroke="#1a1a1a" stroke-width="0.95"/>
<circle cx="250.6" cy="920.7" r="3.6" fill="#c0c0c0" stroke="#1a1a1a" stroke-width="0.95"/>
<circle cx="249.0" cy="918.8" r="3.6" fill="#c0c0c0" stroke="#1a1a1a" stroke-width="0.95"/>
<circle cx="250.0" cy="916.6" r="3.6" fill="#c0c0c0" stroke="#1a1a1a" stroke-width="0.95"/>
<circle cx="250.9" cy="915.5" r="3.6" fill="#c0c0c0" stroke="#1a1a1a" stroke-width="0.95"/>
<circle cx="249.4" cy="913.6" r="3.6" fill="#c0c0c0" stroke="#1a1a1a" stroke-width="0.95"/>
<circle cx="250.3" cy="911.7" r="3.6" fill="#c0c0c0" stroke="#1a1a1a" stroke-width="0.95"/>
<circle cx="248.9" cy="910.5" r="3.6" fill="#c0c0c0" stroke="#1a1a1a" stroke-width="0.95"/>
<circle cx="249.8" cy="909.0" r="3.6" fill="#c0c0c0" stroke="#1a1a1a" stroke-width="0.95"/>
<circle cx="250.6" cy="907.8" r="3.6" fill="#c0c0c0" stroke="#1a1a1a" stroke-width="0.95"/>
<circle cx="249.3" cy="905.2" r="3.6" fill="#c0c0c0" stroke="#1a1a1a" stroke-width="0.95"/>
<circle cx="250.1" cy="903.7" r="3.6" fill="#c0c0c0" stroke="#1a1a1a" stroke-width="0.95"/>
<circle cx="250.9" cy="903.0" r="3.6" fill="#c0c0c0" stroke="#1a1a1a" stroke-width="0.95"/>
<circle cx="249.6" cy="901.3" r="3.6" fill="#c0c0c0" stroke="#1a1a1a" stroke-width="0.95"/>
<circle cx="231.0" cy="1002.0" r="3.6" fill="#c0c0c0" stroke="#1a1a1a" stroke-width="0.95"/>
<circle cx="236.2" cy="1001.9" r="3.6" fill="#c0c0c0" stroke="#1a1a1a" stroke-width="0.95"/>
<circle cx="253.6" cy="1004.4" r="3.6" fill="#c0c0c0" stroke="#1a1a1a" stroke-width="0.95"/>
<circle cx="242.0" cy="1004.5" r="3.6" fill="#c0c0c0" stroke="#1a1a1a" stroke-width="0.95"/>
<circle cx="246.2" cy="1004.2" r="3.6" fill="#c0c0c0" stroke="#1a1a1a" stroke-width="0.95"/>
<circle cx="258.2" cy="1004.3" r="3.6" fill="#c0c0c0" stroke="#1a1a1a" stroke-width="0.95"/>
<circle cx="238.3" cy="1004.6" r="3.6" fill="#c0c0c0" stroke="#1a1a1a" stroke-width="0.95"/>
<circle cx="262.2" cy="1004.8" r="3.6" fill="#c0c0c0" stroke="#1a1a1a" stroke-width="0.95"/>
<circle cx="250.2" cy="1004.4" r="3.6" fill="#c0c0c0" stroke="#1a1a1a" stroke-width="0.95"/>
<circle cx="251.5" cy="1009.4" r="3.6" fill="#c0c0c0" stroke="#1a1a1a" stroke-width="0.95"/>
<circle cx="259.9" cy="1009.4" r="3.6" fill="#c0c0c0" stroke="#1a1a1a" stroke-width="0.95"/>
<circle cx="236.5" cy="1009.2" r="3.6" fill="#c0c0c0" stroke="#1a1a1a" stroke-width="0.95"/>
<circle cx="239.9" cy="1009.4" r="3.6" fill="#c0c0c0" stroke="#1a1a1a" stroke-width="0.95"/>
<circle cx="256.0" cy="1009.6" r="3.6" fill="#c0c0c0" stroke="#1a1a1a" stroke-width="0.95"/>
<circle cx="267.5" cy="1009.3" r="3.6" fill="#c0c0c0" stroke="#1a1a1a" stroke-width="0.95"/>
<circle cx="232.8" cy="1009.6" r="3.6" fill="#c0c0c0" stroke="#1a1a1a" stroke-width="0.95"/>
<circle cx="248.1" cy="1009.2" r="3.6" fill="#c0c0c0" stroke="#1a1a1a" stroke-width="0.95"/>
<circle cx="244.4" cy="1009.4" r="3.6" fill="#c0c0c0" stroke="#1a1a1a" stroke-width="0.95"/>
<circle cx="263.6" cy="1009.5" r="3.6" fill="#c0c0c0" stroke="#1a1a1a" stroke-width="0.95"/>
<circle cx="251.2" cy="1016.5" r="3.6" fill="#c0c0c0" stroke="#1a1a1a" stroke-width="0.95"/>
<circle cx="245.4" cy="1016.4" r="3.6" fill="#c0c0c0" stroke="#1a1a1a" stroke-width="0.95"/>
<circle cx="242.8" cy="1016.8" r="3.6" fill="#c0c0c0" stroke="#1a1a1a" stroke-width="0.95"/>
<circle cx="248.2" cy="1016.8" r="3.6" fill="#c0c0c0" stroke="#1a1a1a" stroke-width="0.95"/>
<circle cx="254.1" cy="1016.5" r="3.6" fill="#c0c0c0" stroke="#1a1a1a" stroke-width="0.95"/>
<circle cx="258.0" cy="1016.3" r="3.6" fill="#c0c0c0" stroke="#1a1a1a" stroke-width="0.95"/>
<circle cx="300.8" cy="815.3" r="3.6" fill="#c0c0c0" stroke="#1a1a1a" stroke-width="0.95"/>
<circle cx="300.8" cy="843.7" r="3.6" fill="#c0c0c0" stroke="#1a1a1a" stroke-width="0.95"/>
<circle cx="300.8" cy="858.6" r="3.6" fill="#c0c0c0" stroke="#1a1a1a" stroke-width="0.95"/>
<circle cx="300.8" cy="862.2" r="3.6" fill="#c0c0c0" stroke="#1a1a1a" stroke-width="0.95"/>
<circle cx="300.8" cy="880.7" r="3.6" fill="#c0c0c0" stroke="#1a1a1a" stroke-width="0.95"/>
<circle cx="301.8" cy="884.3" r="3.6" fill="#c0c0c0" stroke="#1a1a1a" stroke-width="0.95"/>
<circle cx="300.8" cy="887.3" r="3.6" fill="#c0c0c0" stroke="#1a1a1a" stroke-width="0.95"/>
<circle cx="300.8" cy="899.9" r="3.6" fill="#c0c0c0" stroke="#1a1a1a" stroke-width="0.95"/>
<circle cx="299.5" cy="1003.1" r="3.6" fill="#c0c0c0" stroke="#1a1a1a" stroke-width="0.95"/>
<circle cx="306.2" cy="1002.6" r="3.6" fill="#c0c0c0" stroke="#1a1a1a" stroke-width="0.95"/>
<circle cx="295.4" cy="1002.4" r="3.6" fill="#c0c0c0" stroke="#1a1a1a" stroke-width="0.95"/>
<circle cx="302.0" cy="1001.4" r="3.6" fill="#c0c0c0" stroke="#1a1a1a" stroke-width="0.95"/>
<circle cx="308.5" cy="999.7" r="3.6" fill="#c0c0c0" stroke="#1a1a1a" stroke-width="0.95"/>
<circle cx="298.1" cy="999.2" r="3.6" fill="#c0c0c0" stroke="#1a1a1a" stroke-width="0.95"/>
<circle cx="304.4" cy="998.8" r="3.6" fill="#c0c0c0" stroke="#1a1a1a" stroke-width="0.95"/>
<circle cx="294.4" cy="997.1" r="3.6" fill="#c0c0c0" stroke="#1a1a1a" stroke-width="0.95"/>
<circle cx="300.5" cy="996.2" r="3.6" fill="#c0c0c0" stroke="#1a1a1a" stroke-width="0.95"/>
<circle cx="306.5" cy="995.3" r="3.6" fill="#c0c0c0" stroke="#1a1a1a" stroke-width="0.95"/>
<circle cx="296.9" cy="994.7" r="3.6" fill="#c0c0c0" stroke="#1a1a1a" stroke-width="0.95"/>
<circle cx="302.7" cy="994.0" r="3.6" fill="#c0c0c0" stroke="#1a1a1a" stroke-width="0.95"/>
<circle cx="293.5" cy="992.8" r="3.6" fill="#c0c0c0" stroke="#1a1a1a" stroke-width="0.95"/>
<circle cx="299.2" cy="992.4" r="3.6" fill="#c0c0c0" stroke="#1a1a1a" stroke-width="0.95"/>
<circle cx="304.7" cy="991.0" r="3.6" fill="#c0c0c0" stroke="#1a1a1a" stroke-width="0.95"/>
<circle cx="295.9" cy="991.0" r="3.6" fill="#c0c0c0" stroke="#1a1a1a" stroke-width="0.95"/>
<circle cx="301.1" cy="989.7" r="3.6" fill="#c0c0c0" stroke="#1a1a1a" stroke-width="0.95"/>
<circle cx="304.1" cy="987.9" r="3.6" fill="#c0c0c0" stroke="#1a1a1a" stroke-width="0.95"/>
<circle cx="299.3" cy="986.7" r="3.6" fill="#c0c0c0" stroke="#1a1a1a" stroke-width="0.95"/>
<circle cx="302.2" cy="985.6" r="3.6" fill="#c0c0c0" stroke="#1a1a1a" stroke-width="0.95"/>
<circle cx="297.5" cy="983.9" r="3.6" fill="#c0c0c0" stroke="#1a1a1a" stroke-width="0.95"/>
<circle cx="300.4" cy="983.6" r="3.6" fill="#c0c0c0" stroke="#1a1a1a" stroke-width="0.95"/>
<circle cx="303.2" cy="981.3" r="3.6" fill="#c0c0c0" stroke="#1a1a1a" stroke-width="0.95"/>
<circle cx="298.7" cy="980.4" r="3.6" fill="#c0c0c0" stroke="#1a1a1a" stroke-width="0.95"/>
<circle cx="301.5" cy="979.5" r="3.6" fill="#c0c0c0" stroke="#1a1a1a" stroke-width="0.95"/>
<circle cx="304.2" cy="978.4" r="3.6" fill="#c0c0c0" stroke="#1a1a1a" stroke-width="0.95"/>
<circle cx="299.8" cy="976.8" r="3.6" fill="#c0c0c0" stroke="#1a1a1a" stroke-width="0.95"/>
<circle cx="302.5" cy="975.9" r="3.6" fill="#c0c0c0" stroke="#1a1a1a" stroke-width="0.95"/>
<circle cx="298.2" cy="973.8" r="3.6" fill="#c0c0c0" stroke="#1a1a1a" stroke-width="0.95"/>
<circle cx="300.8" cy="973.4" r="3.6" fill="#c0c0c0" stroke="#1a1a1a" stroke-width="0.95"/>
<circle cx="303.4" cy="971.9" r="3.6" fill="#c0c0c0" stroke="#1a1a1a" stroke-width="0.95"/>
<circle cx="299.3" cy="971.2" r="3.6" fill="#c0c0c0" stroke="#1a1a1a" stroke-width="0.95"/>
<circle cx="301.8" cy="969.9" r="3.6" fill="#c0c0c0" stroke="#1a1a1a" stroke-width="0.95"/>
<circle cx="297.8" cy="968.3" r="3.6" fill="#c0c0c0" stroke="#1a1a1a" stroke-width="0.95"/>
<circle cx="300.3" cy="967.2" r="3.6" fill="#c0c0c0" stroke="#1a1a1a" stroke-width="0.95"/>
<circle cx="302.6" cy="966.1" r="3.6" fill="#c0c0c0" stroke="#1a1a1a" stroke-width="0.95"/>
<circle cx="298.8" cy="964.9" r="3.6" fill="#c0c0c0" stroke="#1a1a1a" stroke-width="0.95"/>
<circle cx="301.2" cy="963.0" r="3.6" fill="#c0c0c0" stroke="#1a1a1a" stroke-width="0.95"/>
<circle cx="303.4" cy="961.5" r="3.6" fill="#c0c0c0" stroke="#1a1a1a" stroke-width="0.95"/>
<circle cx="299.8" cy="960.6" r="3.6" fill="#c0c0c0" stroke="#1a1a1a" stroke-width="0.95"/>
<circle cx="302.0" cy="959.1" r="3.6" fill="#c0c0c0" stroke="#1a1a1a" stroke-width="0.95"/>
<circle cx="298.5" cy="957.8" r="3.6" fill="#c0c0c0" stroke="#1a1a1a" stroke-width="0.95"/>
<circle cx="300.6" cy="957.4" r="3.6" fill="#c0c0c0" stroke="#1a1a1a" stroke-width="0.95"/>
<circle cx="302.7" cy="955.4" r="3.6" fill="#c0c0c0" stroke="#1a1a1a" stroke-width="0.95"/>
<circle cx="299.4" cy="954.8" r="3.6" fill="#c0c0c0" stroke="#1a1a1a" stroke-width="0.95"/>
<circle cx="301.4" cy="952.6" r="3.6" fill="#c0c0c0" stroke="#1a1a1a" stroke-width="0.95"/>
<circle cx="303.4" cy="951.3" r="3.6" fill="#c0c0c0" stroke="#1a1a1a" stroke-width="0.95"/>
<circle cx="300.2" cy="950.4" r="3.6" fill="#c0c0c0" stroke="#1a1a1a" stroke-width="0.95"/>
<circle cx="301.9" cy="949.0" r="3.6" fill="#c0c0c0" stroke="#1a1a1a" stroke-width="0.95"/>
<circle cx="299.3" cy="947.2" r="3.6" fill="#c0c0c0" stroke="#1a1a1a" stroke-width="0.95"/>
<circle cx="300.9" cy="945.8" r="3.6" fill="#c0c0c0" stroke="#1a1a1a" stroke-width="0.95"/>
<circle cx="302.5" cy="944.5" r="3.6" fill="#c0c0c0" stroke="#1a1a1a" stroke-width="0.95"/>
<circle cx="300.0" cy="942.1" r="3.6" fill="#c0c0c0" stroke="#1a1a1a" stroke-width="0.95"/>
<circle cx="301.5" cy="940.3" r="3.6" fill="#c0c0c0" stroke="#1a1a1a" stroke-width="0.95"/>
<circle cx="299.1" cy="938.5" r="3.6" fill="#c0c0c0" stroke="#1a1a1a" stroke-width="0.95"/>
<circle cx="300.6" cy="937.5" r="3.6" fill="#c0c0c0" stroke="#1a1a1a" stroke-width="0.95"/>
<circle cx="301.9" cy="935.5" r="3.6" fill="#c0c0c0" stroke="#1a1a1a" stroke-width="0.95"/>
<circle cx="299.7" cy="934.1" r="3.6" fill="#c0c0c0" stroke="#1a1a1a" stroke-width="0.95"/>
<circle cx="301.1" cy="931.4" r="3.6" fill="#c0c0c0" stroke="#1a1a1a" stroke-width="0.95"/>
<circle cx="302.3" cy="930.5" r="3.6" fill="#c0c0c0" stroke="#1a1a1a" stroke-width="0.95"/>
<circle cx="300.3" cy="928.7" r="3.6" fill="#c0c0c0" stroke="#1a1a1a" stroke-width="0.95"/>
<circle cx="301.5" cy="926.0" r="3.6" fill="#c0c0c0" stroke="#1a1a1a" stroke-width="0.95"/>
<circle cx="299.6" cy="925.3" r="3.6" fill="#c0c0c0" stroke="#1a1a1a" stroke-width="0.95"/>
<circle cx="300.8" cy="923.0" r="3.6" fill="#c0c0c0" stroke="#1a1a1a" stroke-width="0.95"/>
<circle cx="301.9" cy="921.3" r="3.6" fill="#c0c0c0" stroke="#1a1a1a" stroke-width="0.95"/>
<circle cx="300.1" cy="919.3" r="3.6" fill="#c0c0c0" stroke="#1a1a1a" stroke-width="0.95"/>
<circle cx="301.2" cy="917.7" r="3.6" fill="#c0c0c0" stroke="#1a1a1a" stroke-width="0.95"/>
<circle cx="299.5" cy="916.2" r="3.6" fill="#c0c0c0" stroke="#1a1a1a" stroke-width="0.95"/>
<circle cx="300.5" cy="914.5" r="3.6" fill="#c0c0c0" stroke="#1a1a1a" stroke-width="0.95"/>
<circle cx="301.5" cy="912.2" r="3.6" fill="#c0c0c0" stroke="#1a1a1a" stroke-width="0.95"/>
<circle cx="300.0" cy="910.5" r="3.6" fill="#c0c0c0" stroke="#1a1a1a" stroke-width="0.95"/>
<circle cx="300.9" cy="909.3" r="3.6" fill="#c0c0c0" stroke="#1a1a1a" stroke-width="0.95"/>
<circle cx="301.7" cy="908.1" r="3.6" fill="#c0c0c0" stroke="#1a1a1a" stroke-width="0.95"/>
<circle cx="300.4" cy="905.5" r="3.6" fill="#c0c0c0" stroke="#1a1a1a" stroke-width="0.95"/>
<circle cx="297.5" cy="1010.5" r="3.6" fill="#c0c0c0" stroke="#1a1a1a" stroke-width="0.95"/>
<circle cx="313.8" cy="1010.3" r="3.6" fill="#c0c0c0" stroke="#1a1a1a" stroke-width="0.95"/>
<circle cx="284.8" cy="1010.3" r="3.6" fill="#c0c0c0" stroke="#1a1a1a" stroke-width="0.95"/>
<circle cx="307.6" cy="1010.3" r="3.6" fill="#c0c0c0" stroke="#1a1a1a" stroke-width="0.95"/>
<circle cx="310.3" cy="1010.6" r="3.6" fill="#c0c0c0" stroke="#1a1a1a" stroke-width="0.95"/>
<circle cx="291.4" cy="1010.7" r="3.6" fill="#c0c0c0" stroke="#1a1a1a" stroke-width="0.95"/>
<circle cx="319.7" cy="1010.5" r="3.6" fill="#c0c0c0" stroke="#1a1a1a" stroke-width="0.95"/>
<circle cx="303.5" cy="1010.4" r="3.6" fill="#c0c0c0" stroke="#1a1a1a" stroke-width="0.95"/>
<circle cx="300.7" cy="1010.4" r="3.6" fill="#c0c0c0" stroke="#1a1a1a" stroke-width="0.95"/>
<circle cx="316.4" cy="1010.3" r="3.6" fill="#c0c0c0" stroke="#1a1a1a" stroke-width="0.95"/>
<circle cx="287.9" cy="1010.4" r="3.6" fill="#c0c0c0" stroke="#1a1a1a" stroke-width="0.95"/>
<circle cx="281.5" cy="1010.3" r="3.6" fill="#c0c0c0" stroke="#1a1a1a" stroke-width="0.95"/>
<circle cx="294.7" cy="1010.4" r="3.6" fill="#c0c0c0" stroke="#1a1a1a" stroke-width="0.95"/>
<circle cx="318.8" cy="1016.5" r="3.6" fill="#c0c0c0" stroke="#1a1a1a" stroke-width="0.95"/>
<circle cx="303.5" cy="1016.8" r="3.6" fill="#c0c0c0" stroke="#1a1a1a" stroke-width="0.95"/>
<circle cx="285.4" cy="1016.3" r="3.6" fill="#c0c0c0" stroke="#1a1a1a" stroke-width="0.95"/>
<circle cx="297.8" cy="1016.5" r="3.6" fill="#c0c0c0" stroke="#1a1a1a" stroke-width="0.95"/>
<circle cx="312.9" cy="1016.6" r="3.6" fill="#c0c0c0" stroke="#1a1a1a" stroke-width="0.95"/>
<circle cx="288.8" cy="1016.6" r="3.6" fill="#c0c0c0" stroke="#1a1a1a" stroke-width="0.95"/>
<circle cx="315.4" cy="1016.2" r="3.6" fill="#c0c0c0" stroke="#1a1a1a" stroke-width="0.95"/>
<circle cx="306.9" cy="1016.4" r="3.6" fill="#c0c0c0" stroke="#1a1a1a" stroke-width="0.95"/>
<circle cx="283.3" cy="1016.3" r="3.6" fill="#c0c0c0" stroke="#1a1a1a" stroke-width="0.95"/>
<circle cx="309.4" cy="1016.4" r="3.6" fill="#c0c0c0" stroke="#1a1a1a" stroke-width="0.95"/>
<circle cx="292.2" cy="1016.6" r="3.6" fill="#c0c0c0" stroke="#1a1a1a" stroke-width="0.95"/>
<circle cx="294.9" cy="1016.7" r="3.6" fill="#c0c0c0" stroke="#1a1a1a" stroke-width="0.95"/>
<circle cx="300.3" cy="1016.7" r="3.6" fill="#c0c0c0" stroke="#1a1a1a" stroke-width="0.95"/>
<circle cx="199.0" cy="850.2" r="4.1" fill="#f5000a" stroke="#3a0000" stroke-width="0.7"/>
<circle cx="250.0" cy="850.2" r="4.1" fill="#f5000a" stroke="#3a0000" stroke-width="0.7"/>
<circle cx="300.8" cy="850.2" r="4.1" fill="#f5000a" stroke="#3a0000" stroke-width="0.7"/>
<text transform="translate(204.5 1048.3) rotate(-45)" font-size="24" text-anchor="end" fill="#000" stroke="#000" stroke-width="0.35">CPS1-1</text>
<text transform="translate(255.0 1048.3) rotate(-45)" font-size="24" text-anchor="end" fill="#000" stroke="#000" stroke-width="0.35">hyb16</text>
<text transform="translate(305.8 1048.3) rotate(-45)" font-size="24" text-anchor="end" fill="#000" stroke="#000" stroke-width="0.35">hyb17</text>
<circle cx="338.4" cy="886.3" r="4.1" fill="#f5000a" stroke="#3a0000" stroke-width="0.7"/>
<circle cx="338.4" cy="920.0" r="3.6" fill="#c0c0c0" stroke="#1a1a1a" stroke-width="0.95"/>
<text x="352.9" y="893.3" font-size="19.8" text-anchor="start" fill="#e3000f" stroke="#e3000f" stroke-width="0.35" >on-target site</text>
<text x="352.9" y="927.0" font-size="19.8" text-anchor="start" fill="#808080" stroke="#808080" stroke-width="0.35" >off-target sites</text>
<text x="249.7" y="1141.0" font-size="23.2" text-anchor="middle" fill="#000" stroke="#000" stroke-width="0.35" >standard or hybrid gRNA</text>
<text x="249.7" y="1168.4" font-size="23.2" text-anchor="middle" fill="#000" stroke="#000" stroke-width="0.35" >correction of <tspan font-style="italic">CPS1</tspan> Q335X</text>
</g>
<g>
<text x="693" y="698" font-size="23.2" text-anchor="middle" fill="#000" stroke="#000" stroke-width="0.35" >ONE-seq with NGC-ABE8e-V106W</text>
<text x="693" y="725.8" font-size="23.2" text-anchor="middle" fill="#000" stroke="#000" stroke-width="0.35" >protein + CPS1-2 gRNA</text>
<text x="643.0" y="762" font-size="14.2" text-anchor="middle" fill="#000" stroke="#000" stroke-width="0.35" >145</text>
<text x="693.6" y="762" font-size="14.2" text-anchor="middle" fill="#000" stroke="#000" stroke-width="0.35" >29</text>
<text x="744.3" y="762" font-size="14.2" text-anchor="middle" fill="#000" stroke="#000" stroke-width="0.35" >50</text>
<text x="527" y="886.7" font-size="23.2" text-anchor="middle" fill="#000" stroke="#000" stroke-width="0.35" transform="rotate(-90 527 886.7)" >ONE-seq score (log scale)</text>
<line x1="602.7" y1="802.4" x2="613.7" y2="802.4" stroke="#000" stroke-width="2.5"/>
<text x="599.2" y="810.6" font-size="23.2" text-anchor="end" fill="#000" stroke="#000" stroke-width="0.35" >1</text>
<line x1="602.7" y1="909.5" x2="613.7" y2="909.5" stroke="#000" stroke-width="2.5"/>
<text x="599.2" y="917.75" font-size="23.2" text-anchor="end" fill="#000" stroke="#000" stroke-width="0.35" >0.1</text>
<line x1="602.7" y1="1016.7" x2="613.7" y2="1016.7" stroke="#000" stroke-width="2.5"/>
<text x="599.2" y="1024.9" font-size="23.2" text-anchor="end" fill="#000" stroke="#000" stroke-width="0.35" >0.01</text>
<line x1="613.7" y1="771" x2="613.7" y2="1017.95" stroke="#000" stroke-width="2.5"/>
<line x1="603" y1="1016.7" x2="774" y2="1016.7" stroke="#000" stroke-width="2.5"/>
<line x1="643.0" y1="1016.7" x2="643.0" y2="1027.7" stroke="#000" stroke-width="2.5"/>
<line x1="693.6" y1="1016.7" x2="693.6" y2="1027.7" stroke="#000" stroke-width="2.5"/>
<line x1="744.3" y1="1016.7" x2="744.3" y2="1027.7" stroke="#000" stroke-width="2.5"/>
<circle cx="643.0" cy="815.0" r="3.6" fill="#c0c0c0" stroke="#1a1a1a" stroke-width="0.95"/>
<circle cx="642.0" cy="819.8" r="3.6" fill="#c0c0c0" stroke="#1a1a1a" stroke-width="0.95"/>
<circle cx="643.0" cy="845.5" r="3.6" fill="#c0c0c0" stroke="#1a1a1a" stroke-width="0.95"/>
<circle cx="640.0" cy="850.9" r="3.6" fill="#c0c0c0" stroke="#1a1a1a" stroke-width="0.95"/>
<circle cx="645.0" cy="851.8" r="3.6" fill="#c0c0c0" stroke="#1a1a1a" stroke-width="0.95"/>
<circle cx="643.0" cy="859.0" r="3.6" fill="#c0c0c0" stroke="#1a1a1a" stroke-width="0.95"/>
<circle cx="643.0" cy="875.0" r="3.6" fill="#c0c0c0" stroke="#1a1a1a" stroke-width="0.95"/>
<circle cx="643.0" cy="877.8" r="3.6" fill="#c0c0c0" stroke="#1a1a1a" stroke-width="0.95"/>
<circle cx="643.0" cy="884.1" r="3.6" fill="#c0c0c0" stroke="#1a1a1a" stroke-width="0.95"/>
<circle cx="643.0" cy="893.7" r="3.6" fill="#c0c0c0" stroke="#1a1a1a" stroke-width="0.95"/>
<circle cx="643.0" cy="898.7" r="3.6" fill="#c0c0c0" stroke="#1a1a1a" stroke-width="0.95"/>
<circle cx="643.0" cy="903.0" r="3.6" fill="#c0c0c0" stroke="#1a1a1a" stroke-width="0.95"/>
<circle cx="645.5" cy="907.0" r="3.6" fill="#c0c0c0" stroke="#1a1a1a" stroke-width="0.95"/>
<circle cx="658.2" cy="1015.3" r="3.6" fill="#c0c0c0" stroke="#1a1a1a" stroke-width="0.95"/>
<circle cx="645.2" cy="1014.9" r="3.6" fill="#c0c0c0" stroke="#1a1a1a" stroke-width="0.95"/>
<circle cx="632.2" cy="1014.9" r="3.6" fill="#c0c0c0" stroke="#1a1a1a" stroke-width="0.95"/>
<circle cx="629.1" cy="1014.8" r="3.6" fill="#c0c0c0" stroke="#1a1a1a" stroke-width="0.95"/>
<circle cx="637.2" cy="1014.5" r="3.6" fill="#c0c0c0" stroke="#1a1a1a" stroke-width="0.95"/>
<circle cx="650.1" cy="1014.2" r="3.6" fill="#c0c0c0" stroke="#1a1a1a" stroke-width="0.95"/>
<circle cx="642.1" cy="1014.2" r="3.6" fill="#c0c0c0" stroke="#1a1a1a" stroke-width="0.95"/>
<circle cx="655.1" cy="1013.9" r="3.6" fill="#c0c0c0" stroke="#1a1a1a" stroke-width="0.95"/>
<circle cx="626.1" cy="1013.9" r="3.6" fill="#c0c0c0" stroke="#1a1a1a" stroke-width="0.95"/>
<circle cx="647.1" cy="1013.9" r="3.6" fill="#c0c0c0" stroke="#1a1a1a" stroke-width="0.95"/>
<circle cx="634.1" cy="1013.7" r="3.6" fill="#c0c0c0" stroke="#1a1a1a" stroke-width="0.95"/>
<circle cx="639.3" cy="1011.1" r="3.6" fill="#c0c0c0" stroke="#1a1a1a" stroke-width="0.95"/>
<circle cx="651.4" cy="1010.4" r="3.6" fill="#c0c0c0" stroke="#1a1a1a" stroke-width="0.95"/>
<circle cx="632.1" cy="1010.0" r="3.6" fill="#c0c0c0" stroke="#1a1a1a" stroke-width="0.95"/>
<circle cx="655.5" cy="1009.0" r="3.6" fill="#c0c0c0" stroke="#1a1a1a" stroke-width="0.95"/>
<circle cx="643.9" cy="1008.7" r="3.6" fill="#c0c0c0" stroke="#1a1a1a" stroke-width="0.95"/>
<circle cx="636.8" cy="1007.9" r="3.6" fill="#c0c0c0" stroke="#1a1a1a" stroke-width="0.95"/>
<circle cx="648.2" cy="1007.3" r="3.6" fill="#c0c0c0" stroke="#1a1a1a" stroke-width="0.95"/>
<circle cx="630.1" cy="1006.5" r="3.6" fill="#c0c0c0" stroke="#1a1a1a" stroke-width="0.95"/>
<circle cx="652.1" cy="1006.2" r="3.6" fill="#c0c0c0" stroke="#1a1a1a" stroke-width="0.95"/>
<circle cx="641.3" cy="1006.1" r="3.6" fill="#c0c0c0" stroke="#1a1a1a" stroke-width="0.95"/>
<circle cx="634.7" cy="1005.6" r="3.6" fill="#c0c0c0" stroke="#1a1a1a" stroke-width="0.95"/>
<circle cx="645.4" cy="1004.5" r="3.6" fill="#c0c0c0" stroke="#1a1a1a" stroke-width="0.95"/>
<circle cx="655.8" cy="1003.6" r="3.6" fill="#c0c0c0" stroke="#1a1a1a" stroke-width="0.95"/>
<circle cx="649.1" cy="1003.4" r="3.6" fill="#c0c0c0" stroke="#1a1a1a" stroke-width="0.95"/>
<circle cx="638.9" cy="1002.8" r="3.6" fill="#c0c0c0" stroke="#1a1a1a" stroke-width="0.95"/>
<circle cx="632.9" cy="1002.4" r="3.6" fill="#c0c0c0" stroke="#1a1a1a" stroke-width="0.95"/>
<circle cx="642.9" cy="1002.1" r="3.6" fill="#c0c0c0" stroke="#1a1a1a" stroke-width="0.95"/>
<circle cx="650.1" cy="1001.1" r="3.6" fill="#c0c0c0" stroke="#1a1a1a" stroke-width="0.95"/>
<circle cx="638.5" cy="999.4" r="3.6" fill="#c0c0c0" stroke="#1a1a1a" stroke-width="0.95"/>
<circle cx="645.7" cy="998.9" r="3.6" fill="#c0c0c0" stroke="#1a1a1a" stroke-width="0.95"/>
<circle cx="634.0" cy="998.2" r="3.6" fill="#c0c0c0" stroke="#1a1a1a" stroke-width="0.95"/>
<circle cx="641.2" cy="997.9" r="3.6" fill="#c0c0c0" stroke="#1a1a1a" stroke-width="0.95"/>
<circle cx="648.4" cy="996.5" r="3.6" fill="#c0c0c0" stroke="#1a1a1a" stroke-width="0.95"/>
<circle cx="636.8" cy="996.1" r="3.6" fill="#c0c0c0" stroke="#1a1a1a" stroke-width="0.95"/>
<circle cx="644.0" cy="995.7" r="3.6" fill="#c0c0c0" stroke="#1a1a1a" stroke-width="0.95"/>
<circle cx="651.1" cy="994.1" r="3.6" fill="#c0c0c0" stroke="#1a1a1a" stroke-width="0.95"/>
<circle cx="639.6" cy="993.4" r="3.6" fill="#c0c0c0" stroke="#1a1a1a" stroke-width="0.95"/>
<circle cx="646.7" cy="993.3" r="3.6" fill="#c0c0c0" stroke="#1a1a1a" stroke-width="0.95"/>
<circle cx="635.2" cy="992.3" r="3.6" fill="#c0c0c0" stroke="#1a1a1a" stroke-width="0.95"/>
<circle cx="642.3" cy="990.9" r="3.6" fill="#c0c0c0" stroke="#1a1a1a" stroke-width="0.95"/>
<circle cx="649.3" cy="990.9" r="3.6" fill="#c0c0c0" stroke="#1a1a1a" stroke-width="0.95"/>
<circle cx="637.9" cy="989.1" r="3.6" fill="#c0c0c0" stroke="#1a1a1a" stroke-width="0.95"/>
<circle cx="645.0" cy="988.2" r="3.6" fill="#c0c0c0" stroke="#1a1a1a" stroke-width="0.95"/>
<circle cx="640.6" cy="987.5" r="3.6" fill="#c0c0c0" stroke="#1a1a1a" stroke-width="0.95"/>
<circle cx="651.9" cy="987.4" r="3.6" fill="#c0c0c0" stroke="#1a1a1a" stroke-width="0.95"/>
<circle cx="647.6" cy="986.8" r="3.6" fill="#c0c0c0" stroke="#1a1a1a" stroke-width="0.95"/>
<circle cx="636.4" cy="985.5" r="3.6" fill="#c0c0c0" stroke="#1a1a1a" stroke-width="0.95"/>
<circle cx="650.2" cy="984.5" r="3.6" fill="#c0c0c0" stroke="#1a1a1a" stroke-width="0.95"/>
<circle cx="643.3" cy="984.2" r="3.6" fill="#c0c0c0" stroke="#1a1a1a" stroke-width="0.95"/>
<circle cx="639.0" cy="983.0" r="3.6" fill="#c0c0c0" stroke="#1a1a1a" stroke-width="0.95"/>
<circle cx="634.8" cy="982.1" r="3.6" fill="#c0c0c0" stroke="#1a1a1a" stroke-width="0.95"/>
<circle cx="645.9" cy="982.0" r="3.6" fill="#c0c0c0" stroke="#1a1a1a" stroke-width="0.95"/>
<circle cx="641.7" cy="980.6" r="3.6" fill="#c0c0c0" stroke="#1a1a1a" stroke-width="0.95"/>
<circle cx="648.5" cy="980.0" r="3.6" fill="#c0c0c0" stroke="#1a1a1a" stroke-width="0.95"/>
<circle cx="637.5" cy="978.7" r="3.6" fill="#c0c0c0" stroke="#1a1a1a" stroke-width="0.95"/>
<circle cx="644.3" cy="978.3" r="3.6" fill="#c0c0c0" stroke="#1a1a1a" stroke-width="0.95"/>
<circle cx="651.1" cy="978.0" r="3.6" fill="#c0c0c0" stroke="#1a1a1a" stroke-width="0.95"/>
<circle cx="640.1" cy="977.2" r="3.6" fill="#c0c0c0" stroke="#1a1a1a" stroke-width="0.95"/>
<circle cx="646.9" cy="975.8" r="3.6" fill="#c0c0c0" stroke="#1a1a1a" stroke-width="0.95"/>
<circle cx="642.7" cy="975.0" r="3.6" fill="#c0c0c0" stroke="#1a1a1a" stroke-width="0.95"/>
<circle cx="635.9" cy="974.8" r="3.6" fill="#c0c0c0" stroke="#1a1a1a" stroke-width="0.95"/>
<circle cx="638.5" cy="973.3" r="3.6" fill="#c0c0c0" stroke="#1a1a1a" stroke-width="0.95"/>
<circle cx="649.4" cy="973.1" r="3.6" fill="#c0c0c0" stroke="#1a1a1a" stroke-width="0.95"/>
<circle cx="645.2" cy="971.8" r="3.6" fill="#c0c0c0" stroke="#1a1a1a" stroke-width="0.95"/>
<circle cx="634.4" cy="970.9" r="3.6" fill="#c0c0c0" stroke="#1a1a1a" stroke-width="0.95"/>
<circle cx="641.1" cy="969.8" r="3.6" fill="#c0c0c0" stroke="#1a1a1a" stroke-width="0.95"/>
<circle cx="647.8" cy="969.2" r="3.6" fill="#c0c0c0" stroke="#1a1a1a" stroke-width="0.95"/>
<circle cx="637.0" cy="968.6" r="3.6" fill="#c0c0c0" stroke="#1a1a1a" stroke-width="0.95"/>
<circle cx="643.7" cy="967.8" r="3.6" fill="#c0c0c0" stroke="#1a1a1a" stroke-width="0.95"/>
<circle cx="650.2" cy="967.1" r="3.6" fill="#c0c0c0" stroke="#1a1a1a" stroke-width="0.95"/>
<circle cx="639.6" cy="966.6" r="3.6" fill="#c0c0c0" stroke="#1a1a1a" stroke-width="0.95"/>
<circle cx="635.6" cy="965.1" r="3.6" fill="#c0c0c0" stroke="#1a1a1a" stroke-width="0.95"/>
<circle cx="646.2" cy="965.0" r="3.6" fill="#c0c0c0" stroke="#1a1a1a" stroke-width="0.95"/>
<circle cx="642.1" cy="964.5" r="3.6" fill="#c0c0c0" stroke="#1a1a1a" stroke-width="0.95"/>
<circle cx="648.6" cy="962.8" r="3.6" fill="#c0c0c0" stroke="#1a1a1a" stroke-width="0.95"/>
<circle cx="638.1" cy="962.2" r="3.6" fill="#c0c0c0" stroke="#1a1a1a" stroke-width="0.95"/>
<circle cx="644.3" cy="962.0" r="3.6" fill="#c0c0c0" stroke="#1a1a1a" stroke-width="0.95"/>
<circle cx="649.6" cy="961.1" r="3.6" fill="#c0c0c0" stroke="#1a1a1a" stroke-width="0.95"/>
<circle cx="641.0" cy="959.8" r="3.6" fill="#c0c0c0" stroke="#1a1a1a" stroke-width="0.95"/>
<circle cx="646.3" cy="959.0" r="3.6" fill="#c0c0c0" stroke="#1a1a1a" stroke-width="0.95"/>
<circle cx="637.8" cy="958.0" r="3.6" fill="#c0c0c0" stroke="#1a1a1a" stroke-width="0.95"/>
<circle cx="643.0" cy="956.4" r="3.6" fill="#c0c0c0" stroke="#1a1a1a" stroke-width="0.95"/>
<circle cx="648.3" cy="955.0" r="3.6" fill="#c0c0c0" stroke="#1a1a1a" stroke-width="0.95"/>
<circle cx="639.8" cy="954.0" r="3.6" fill="#c0c0c0" stroke="#1a1a1a" stroke-width="0.95"/>
<circle cx="645.0" cy="953.1" r="3.6" fill="#c0c0c0" stroke="#1a1a1a" stroke-width="0.95"/>
<circle cx="636.7" cy="953.1" r="3.6" fill="#c0c0c0" stroke="#1a1a1a" stroke-width="0.95"/>
<circle cx="641.8" cy="951.2" r="3.6" fill="#c0c0c0" stroke="#1a1a1a" stroke-width="0.95"/>
<circle cx="647.0" cy="950.4" r="3.6" fill="#c0c0c0" stroke="#1a1a1a" stroke-width="0.95"/>
<circle cx="638.7" cy="949.1" r="3.6" fill="#c0c0c0" stroke="#1a1a1a" stroke-width="0.95"/>
<circle cx="643.8" cy="949.0" r="3.6" fill="#c0c0c0" stroke="#1a1a1a" stroke-width="0.95"/>
<circle cx="648.9" cy="947.7" r="3.6" fill="#c0c0c0" stroke="#1a1a1a" stroke-width="0.95"/>
<circle cx="640.7" cy="946.4" r="3.6" fill="#c0c0c0" stroke="#1a1a1a" stroke-width="0.95"/>
<circle cx="645.7" cy="945.2" r="3.6" fill="#c0c0c0" stroke="#1a1a1a" stroke-width="0.95"/>
<circle cx="637.6" cy="944.1" r="3.6" fill="#c0c0c0" stroke="#1a1a1a" stroke-width="0.95"/>
<circle cx="642.6" cy="943.5" r="3.6" fill="#c0c0c0" stroke="#1a1a1a" stroke-width="0.95"/>
<circle cx="647.6" cy="943.0" r="3.6" fill="#c0c0c0" stroke="#1a1a1a" stroke-width="0.95"/>
<circle cx="639.5" cy="941.3" r="3.6" fill="#c0c0c0" stroke="#1a1a1a" stroke-width="0.95"/>
<circle cx="644.5" cy="940.8" r="3.6" fill="#c0c0c0" stroke="#1a1a1a" stroke-width="0.95"/>
<circle cx="649.4" cy="939.2" r="3.6" fill="#c0c0c0" stroke="#1a1a1a" stroke-width="0.95"/>
<circle cx="641.4" cy="938.2" r="3.6" fill="#c0c0c0" stroke="#1a1a1a" stroke-width="0.95"/>
<circle cx="646.3" cy="937.9" r="3.6" fill="#c0c0c0" stroke="#1a1a1a" stroke-width="0.95"/>
<circle cx="638.4" cy="936.3" r="3.6" fill="#c0c0c0" stroke="#1a1a1a" stroke-width="0.95"/>
<circle cx="643.3" cy="936.1" r="3.6" fill="#c0c0c0" stroke="#1a1a1a" stroke-width="0.95"/>
<circle cx="648.2" cy="934.1" r="3.6" fill="#c0c0c0" stroke="#1a1a1a" stroke-width="0.95"/>
<circle cx="640.3" cy="933.5" r="3.6" fill="#c0c0c0" stroke="#1a1a1a" stroke-width="0.95"/>
<circle cx="645.1" cy="932.8" r="3.6" fill="#c0c0c0" stroke="#1a1a1a" stroke-width="0.95"/>
<circle cx="637.4" cy="931.9" r="3.6" fill="#c0c0c0" stroke="#1a1a1a" stroke-width="0.95"/>
<circle cx="642.2" cy="930.1" r="3.6" fill="#c0c0c0" stroke="#1a1a1a" stroke-width="0.95"/>
<circle cx="646.9" cy="929.7" r="3.6" fill="#c0c0c0" stroke="#1a1a1a" stroke-width="0.95"/>
<circle cx="639.3" cy="928.4" r="3.6" fill="#c0c0c0" stroke="#1a1a1a" stroke-width="0.95"/>
<circle cx="644.0" cy="927.3" r="3.6" fill="#c0c0c0" stroke="#1a1a1a" stroke-width="0.95"/>
<circle cx="648.7" cy="925.9" r="3.6" fill="#c0c0c0" stroke="#1a1a1a" stroke-width="0.95"/>
<circle cx="641.1" cy="925.2" r="3.6" fill="#c0c0c0" stroke="#1a1a1a" stroke-width="0.95"/>
<circle cx="645.8" cy="925.0" r="3.6" fill="#c0c0c0" stroke="#1a1a1a" stroke-width="0.95"/>
<circle cx="638.2" cy="923.7" r="3.6" fill="#c0c0c0" stroke="#1a1a1a" stroke-width="0.95"/>
<circle cx="642.9" cy="922.2" r="3.6" fill="#c0c0c0" stroke="#1a1a1a" stroke-width="0.95"/>
<circle cx="647.5" cy="921.4" r="3.6" fill="#c0c0c0" stroke="#1a1a1a" stroke-width="0.95"/>
<circle cx="640.0" cy="920.7" r="3.6" fill="#c0c0c0" stroke="#1a1a1a" stroke-width="0.95"/>
<circle cx="644.4" cy="919.2" r="3.6" fill="#c0c0c0" stroke="#1a1a1a" stroke-width="0.95"/>
<circle cx="638.3" cy="917.2" r="3.6" fill="#c0c0c0" stroke="#1a1a1a" stroke-width="0.95"/>
<circle cx="642.1" cy="916.0" r="3.6" fill="#c0c0c0" stroke="#1a1a1a" stroke-width="0.95"/>
<circle cx="645.2" cy="915.0" r="3.6" fill="#c0c0c0" stroke="#1a1a1a" stroke-width="0.95"/>
<circle cx="640.6" cy="913.8" r="3.6" fill="#c0c0c0" stroke="#1a1a1a" stroke-width="0.95"/>
<circle cx="643.3" cy="911.4" r="3.6" fill="#c0c0c0" stroke="#1a1a1a" stroke-width="0.95"/>
<circle cx="645.3" cy="909.9" r="3.6" fill="#c0c0c0" stroke="#1a1a1a" stroke-width="0.95"/>
<circle cx="642.2" cy="908.7" r="3.6" fill="#c0c0c0" stroke="#1a1a1a" stroke-width="0.95"/>
<circle cx="699.3" cy="1013.7" r="3.6" fill="#c0c0c0" stroke="#1a1a1a" stroke-width="0.95"/>
<circle cx="711.2" cy="1013.7" r="3.6" fill="#c0c0c0" stroke="#1a1a1a" stroke-width="0.95"/>
<circle cx="676.2" cy="1011.9" r="3.6" fill="#c0c0c0" stroke="#1a1a1a" stroke-width="0.95"/>
<circle cx="687.9" cy="1011.9" r="3.6" fill="#c0c0c0" stroke="#1a1a1a" stroke-width="0.95"/>
<circle cx="693.6" cy="1007.8" r="3.6" fill="#c0c0c0" stroke="#1a1a1a" stroke-width="0.95"/>
<circle cx="705.2" cy="1007.8" r="3.6" fill="#c0c0c0" stroke="#1a1a1a" stroke-width="0.95"/>
<circle cx="682.1" cy="1004.2" r="3.6" fill="#c0c0c0" stroke="#1a1a1a" stroke-width="0.95"/>
<circle cx="699.3" cy="1003.6" r="3.6" fill="#c0c0c0" stroke="#1a1a1a" stroke-width="0.95"/>
<circle cx="676.2" cy="1002.4" r="3.6" fill="#c0c0c0" stroke="#1a1a1a" stroke-width="0.95"/>
<circle cx="687.9" cy="1000.6" r="3.6" fill="#c0c0c0" stroke="#1a1a1a" stroke-width="0.95"/>
<circle cx="711.2" cy="1000.6" r="3.6" fill="#c0c0c0" stroke="#1a1a1a" stroke-width="0.95"/>
<circle cx="693.6" cy="994.6" r="3.6" fill="#c0c0c0" stroke="#1a1a1a" stroke-width="0.95"/>
<circle cx="699.6" cy="993.0" r="3.6" fill="#c0c0c0" stroke="#1a1a1a" stroke-width="0.95"/>
<circle cx="681.9" cy="992.8" r="3.6" fill="#c0c0c0" stroke="#1a1a1a" stroke-width="0.95"/>
<circle cx="705.2" cy="991.6" r="3.6" fill="#c0c0c0" stroke="#1a1a1a" stroke-width="0.95"/>
<circle cx="687.9" cy="990.4" r="3.6" fill="#c0c0c0" stroke="#1a1a1a" stroke-width="0.95"/>
<circle cx="693.6" cy="985.4" r="3.6" fill="#c0c0c0" stroke="#1a1a1a" stroke-width="0.95"/>
<circle cx="681.9" cy="981.8" r="3.6" fill="#c0c0c0" stroke="#1a1a1a" stroke-width="0.95"/>
<circle cx="699.3" cy="981.8" r="3.6" fill="#c0c0c0" stroke="#1a1a1a" stroke-width="0.95"/>
<circle cx="687.9" cy="979.7" r="3.6" fill="#c0c0c0" stroke="#1a1a1a" stroke-width="0.95"/>
<circle cx="705.2" cy="978.7" r="3.6" fill="#c0c0c0" stroke="#1a1a1a" stroke-width="0.95"/>
<circle cx="696.6" cy="967.7" r="3.6" fill="#c0c0c0" stroke="#1a1a1a" stroke-width="0.95"/>
<circle cx="690.6" cy="962.7" r="3.6" fill="#c0c0c0" stroke="#1a1a1a" stroke-width="0.95"/>
<circle cx="693.6" cy="936.0" r="3.6" fill="#c0c0c0" stroke="#1a1a1a" stroke-width="0.95"/>
<circle cx="699.6" cy="934.5" r="3.6" fill="#c0c0c0" stroke="#1a1a1a" stroke-width="0.95"/>
<circle cx="687.6" cy="933.0" r="3.6" fill="#c0c0c0" stroke="#1a1a1a" stroke-width="0.95"/>
<circle cx="693.6" cy="904.1" r="3.6" fill="#c0c0c0" stroke="#1a1a1a" stroke-width="0.95"/>
<circle cx="693.6" cy="858.0" r="3.6" fill="#c0c0c0" stroke="#1a1a1a" stroke-width="0.95"/>
<circle cx="744.3" cy="1014.9" r="3.6" fill="#c0c0c0" stroke="#1a1a1a" stroke-width="0.95"/>
<circle cx="753.0" cy="1014.9" r="3.6" fill="#c0c0c0" stroke="#1a1a1a" stroke-width="0.95"/>
<circle cx="762.0" cy="1014.9" r="3.6" fill="#c0c0c0" stroke="#1a1a1a" stroke-width="0.95"/>
<circle cx="726.7" cy="1012.5" r="3.6" fill="#c0c0c0" stroke="#1a1a1a" stroke-width="0.95"/>
<circle cx="757.6" cy="1011.9" r="3.6" fill="#c0c0c0" stroke="#1a1a1a" stroke-width="0.95"/>
<circle cx="735.4" cy="1010.7" r="3.6" fill="#c0c0c0" stroke="#1a1a1a" stroke-width="0.95"/>
<circle cx="739.9" cy="1008.4" r="3.6" fill="#c0c0c0" stroke="#1a1a1a" stroke-width="0.95"/>
<circle cx="748.6" cy="1008.4" r="3.6" fill="#c0c0c0" stroke="#1a1a1a" stroke-width="0.95"/>
<circle cx="762.0" cy="1006.6" r="3.6" fill="#c0c0c0" stroke="#1a1a1a" stroke-width="0.95"/>
<circle cx="731.1" cy="1006.2" r="3.6" fill="#c0c0c0" stroke="#1a1a1a" stroke-width="0.95"/>
<circle cx="744.3" cy="1006.0" r="3.6" fill="#c0c0c0" stroke="#1a1a1a" stroke-width="0.95"/>
<circle cx="726.7" cy="1003.0" r="3.6" fill="#c0c0c0" stroke="#1a1a1a" stroke-width="0.95"/>
<circle cx="757.6" cy="1003.0" r="3.6" fill="#c0c0c0" stroke="#1a1a1a" stroke-width="0.95"/>
<circle cx="735.4" cy="1001.2" r="3.6" fill="#c0c0c0" stroke="#1a1a1a" stroke-width="0.95"/>
<circle cx="739.9" cy="999.4" r="3.6" fill="#c0c0c0" stroke="#1a1a1a" stroke-width="0.95"/>
<circle cx="731.1" cy="998.2" r="3.6" fill="#c0c0c0" stroke="#1a1a1a" stroke-width="0.95"/>
<circle cx="748.6" cy="998.2" r="3.6" fill="#c0c0c0" stroke="#1a1a1a" stroke-width="0.95"/>
<circle cx="762.0" cy="998.2" r="3.6" fill="#c0c0c0" stroke="#1a1a1a" stroke-width="0.95"/>
<circle cx="753.0" cy="996.4" r="3.6" fill="#c0c0c0" stroke="#1a1a1a" stroke-width="0.95"/>
<circle cx="726.7" cy="995.2" r="3.6" fill="#c0c0c0" stroke="#1a1a1a" stroke-width="0.95"/>
<circle cx="757.6" cy="995.2" r="3.6" fill="#c0c0c0" stroke="#1a1a1a" stroke-width="0.95"/>
<circle cx="739.9" cy="992.2" r="3.6" fill="#c0c0c0" stroke="#1a1a1a" stroke-width="0.95"/>
<circle cx="735.4" cy="989.8" r="3.6" fill="#c0c0c0" stroke="#1a1a1a" stroke-width="0.95"/>
<circle cx="748.6" cy="989.8" r="3.6" fill="#c0c0c0" stroke="#1a1a1a" stroke-width="0.95"/>
<circle cx="744.3" cy="989.5" r="3.6" fill="#c0c0c0" stroke="#1a1a1a" stroke-width="0.95"/>
<circle cx="753.0" cy="984.4" r="3.6" fill="#c0c0c0" stroke="#1a1a1a" stroke-width="0.95"/>
<circle cx="757.6" cy="983.5" r="3.6" fill="#c0c0c0" stroke="#1a1a1a" stroke-width="0.95"/>
<circle cx="735.4" cy="979.7" r="3.6" fill="#c0c0c0" stroke="#1a1a1a" stroke-width="0.95"/>
<circle cx="744.3" cy="979.4" r="3.6" fill="#c0c0c0" stroke="#1a1a1a" stroke-width="0.95"/>
<circle cx="748.6" cy="979.1" r="3.6" fill="#c0c0c0" stroke="#1a1a1a" stroke-width="0.95"/>
<circle cx="730.9" cy="978.7" r="3.6" fill="#c0c0c0" stroke="#1a1a1a" stroke-width="0.95"/>
<circle cx="744.3" cy="971.3" r="3.6" fill="#c0c0c0" stroke="#1a1a1a" stroke-width="0.95"/>
<circle cx="753.0" cy="969.5" r="3.6" fill="#c0c0c0" stroke="#1a1a1a" stroke-width="0.95"/>
<circle cx="739.9" cy="965.9" r="3.6" fill="#c0c0c0" stroke="#1a1a1a" stroke-width="0.95"/>
<circle cx="748.6" cy="963.5" r="3.6" fill="#c0c0c0" stroke="#1a1a1a" stroke-width="0.95"/>
<circle cx="744.3" cy="962.3" r="3.6" fill="#c0c0c0" stroke="#1a1a1a" stroke-width="0.95"/>
<circle cx="739.9" cy="958.4" r="3.6" fill="#c0c0c0" stroke="#1a1a1a" stroke-width="0.95"/>
<circle cx="753.0" cy="957.9" r="3.6" fill="#c0c0c0" stroke="#1a1a1a" stroke-width="0.95"/>
<circle cx="748.6" cy="955.2" r="3.6" fill="#c0c0c0" stroke="#1a1a1a" stroke-width="0.95"/>
<circle cx="744.3" cy="952.2" r="3.6" fill="#c0c0c0" stroke="#1a1a1a" stroke-width="0.95"/>
<circle cx="748.6" cy="947.1" r="3.6" fill="#c0c0c0" stroke="#1a1a1a" stroke-width="0.95"/>
<circle cx="744.3" cy="941.2" r="3.6" fill="#c0c0c0" stroke="#1a1a1a" stroke-width="0.95"/>
<circle cx="748.6" cy="934.0" r="3.6" fill="#c0c0c0" stroke="#1a1a1a" stroke-width="0.95"/>
<circle cx="744.3" cy="923.8" r="3.6" fill="#c0c0c0" stroke="#1a1a1a" stroke-width="0.95"/>
<circle cx="744.3" cy="908.5" r="3.6" fill="#c0c0c0" stroke="#1a1a1a" stroke-width="0.95"/>
<circle cx="744.3" cy="895.0" r="3.6" fill="#c0c0c0" stroke="#1a1a1a" stroke-width="0.95"/>
<circle cx="744.3" cy="876.8" r="3.6" fill="#c0c0c0" stroke="#1a1a1a" stroke-width="0.95"/>
<circle cx="744.3" cy="859.6" r="3.6" fill="#c0c0c0" stroke="#1a1a1a" stroke-width="0.95"/>
<circle cx="643.0" cy="802.4" r="4.1" fill="#f5000a" stroke="#3a0000" stroke-width="0.7"/>
<circle cx="693.6" cy="802.4" r="4.1" fill="#f5000a" stroke="#3a0000" stroke-width="0.7"/>
<circle cx="744.3" cy="802.4" r="4.1" fill="#f5000a" stroke="#3a0000" stroke-width="0.7"/>
<text transform="translate(648.0 1048.3) rotate(-45)" font-size="24" text-anchor="end" fill="#000" stroke="#000" stroke-width="0.35">CPS1-2</text>
<text transform="translate(698.6 1048.3) rotate(-45)" font-size="24" text-anchor="end" fill="#000" stroke="#000" stroke-width="0.35">hyb16</text>
<text transform="translate(749.3 1048.3) rotate(-45)" font-size="24" text-anchor="end" fill="#000" stroke="#000" stroke-width="0.35">hyb17</text>
<circle cx="781.7" cy="886.3" r="4.1" fill="#f5000a" stroke="#3a0000" stroke-width="0.7"/>
<circle cx="781.7" cy="920.0" r="3.6" fill="#c0c0c0" stroke="#1a1a1a" stroke-width="0.95"/>
<text x="796.2" y="893.3" font-size="19.8" text-anchor="start" fill="#e3000f" stroke="#e3000f" stroke-width="0.35" >on-target site</text>
<text x="796.2" y="927.0" font-size="19.8" text-anchor="start" fill="#808080" stroke="#808080" stroke-width="0.35" >off-target sites</text>
<text x="693" y="1141.0" font-size="23.2" text-anchor="middle" fill="#000" stroke="#000" stroke-width="0.35" >standard or hybrid gRNA</text>
<text x="693" y="1168.4" font-size="23.2" text-anchor="middle" fill="#000" stroke="#000" stroke-width="0.35" >correction of <tspan font-style="italic">CPS1</tspan> R780H</text>
</g>
<g>
<text x="1137" y="698" font-size="23.2" text-anchor="middle" fill="#000" stroke="#000" stroke-width="0.35" >ONE-seq with SpRY-ABE8.8</text>
<text x="1137" y="725.8" font-size="23.2" text-anchor="middle" fill="#000" stroke="#000" stroke-width="0.35" >protein + PXE2 gRNA</text>
<text x="1086.3" y="762" font-size="14.2" text-anchor="middle" fill="#000" stroke="#000" stroke-width="0.35" >85</text>
<text x="1136.6" y="762" font-size="14.2" text-anchor="middle" fill="#000" stroke="#000" stroke-width="0.35" >19</text>
<text x="1187.4" y="762" font-size="14.2" text-anchor="middle" fill="#000" stroke="#000" stroke-width="0.35" >30</text>
<text x="969.5" y="886.7" font-size="23.2" text-anchor="middle" fill="#000" stroke="#000" stroke-width="0.35" transform="rotate(-90 969.5 886.7)" >ONE-seq score (log scale)</text>
<line x1="1046" y1="833.9" x2="1057" y2="833.9" stroke="#000" stroke-width="2.5"/>
<text x="1042.5" y="842.1" font-size="23.2" text-anchor="end" fill="#000" stroke="#000" stroke-width="0.35" >1</text>
<line x1="1046" y1="925.3" x2="1057" y2="925.3" stroke="#000" stroke-width="2.5"/>
<text x="1042.5" y="933.5" font-size="23.2" text-anchor="end" fill="#000" stroke="#000" stroke-width="0.35" >0.1</text>
<line x1="1046" y1="1016.7" x2="1057" y2="1016.7" stroke="#000" stroke-width="2.5"/>
<text x="1042.5" y="1024.9" font-size="23.2" text-anchor="end" fill="#000" stroke="#000" stroke-width="0.35" >0.01</text>
<line x1="1057" y1="770.5" x2="1057" y2="1017.95" stroke="#000" stroke-width="2.5"/>
<line x1="1046.6" y1="1016.7" x2="1217" y2="1016.7" stroke="#000" stroke-width="2.5"/>
<line x1="1086.3" y1="1016.7" x2="1086.3" y2="1027.7" stroke="#000" stroke-width="2.5"/>
<line x1="1136.6" y1="1016.7" x2="1136.6" y2="1027.7" stroke="#000" stroke-width="2.5"/>
<line x1="1187.4" y1="1016.7" x2="1187.4" y2="1027.7" stroke="#000" stroke-width="2.5"/>
<circle cx="1086.3" cy="781.9" r="3.6" fill="#c0c0c0" stroke="#1a1a1a" stroke-width="0.95"/>
<circle cx="1084.3" cy="832.5" r="3.6" fill="#c0c0c0" stroke="#1a1a1a" stroke-width="0.95"/>
<circle cx="1086.3" cy="853.8" r="3.6" fill="#c0c0c0" stroke="#1a1a1a" stroke-width="0.95"/>
<circle cx="1086.3" cy="872.4" r="3.6" fill="#c0c0c0" stroke="#1a1a1a" stroke-width="0.95"/>
<circle cx="1087.8" cy="875.7" r="3.6" fill="#c0c0c0" stroke="#1a1a1a" stroke-width="0.95"/>
<circle cx="1084.8" cy="881.3" r="3.6" fill="#c0c0c0" stroke="#1a1a1a" stroke-width="0.95"/>
<circle cx="1086.3" cy="893.9" r="3.6" fill="#c0c0c0" stroke="#1a1a1a" stroke-width="0.95"/>
<circle cx="1085.3" cy="896.9" r="3.6" fill="#c0c0c0" stroke="#1a1a1a" stroke-width="0.95"/>
<circle cx="1087.8" cy="899.3" r="3.6" fill="#c0c0c0" stroke="#1a1a1a" stroke-width="0.95"/>
<circle cx="1079.8" cy="1009.1" r="3.6" fill="#c0c0c0" stroke="#1a1a1a" stroke-width="0.95"/>
<circle cx="1089.5" cy="1008.1" r="3.6" fill="#c0c0c0" stroke="#1a1a1a" stroke-width="0.95"/>
<circle cx="1074.7" cy="1007.3" r="3.6" fill="#c0c0c0" stroke="#1a1a1a" stroke-width="0.95"/>
<circle cx="1083.8" cy="1006.2" r="3.6" fill="#c0c0c0" stroke="#1a1a1a" stroke-width="0.95"/>
<circle cx="1092.3" cy="1005.6" r="3.6" fill="#c0c0c0" stroke="#1a1a1a" stroke-width="0.95"/>
<circle cx="1079.0" cy="1004.6" r="3.6" fill="#c0c0c0" stroke="#1a1a1a" stroke-width="0.95"/>
<circle cx="1094.4" cy="1003.0" r="3.6" fill="#c0c0c0" stroke="#1a1a1a" stroke-width="0.95"/>
<circle cx="1087.1" cy="1003.0" r="3.6" fill="#c0c0c0" stroke="#1a1a1a" stroke-width="0.95"/>
<circle cx="1082.6" cy="1001.8" r="3.6" fill="#c0c0c0" stroke="#1a1a1a" stroke-width="0.95"/>
<circle cx="1089.5" cy="1000.2" r="3.6" fill="#c0c0c0" stroke="#1a1a1a" stroke-width="0.95"/>
<circle cx="1079.1" cy="999.4" r="3.6" fill="#c0c0c0" stroke="#1a1a1a" stroke-width="0.95"/>
<circle cx="1085.5" cy="998.9" r="3.6" fill="#c0c0c0" stroke="#1a1a1a" stroke-width="0.95"/>
<circle cx="1091.2" cy="997.3" r="3.6" fill="#c0c0c0" stroke="#1a1a1a" stroke-width="0.95"/>
<circle cx="1082.3" cy="997.0" r="3.6" fill="#c0c0c0" stroke="#1a1a1a" stroke-width="0.95"/>
<circle cx="1087.5" cy="995.6" r="3.6" fill="#c0c0c0" stroke="#1a1a1a" stroke-width="0.95"/>
<circle cx="1092.1" cy="995.1" r="3.6" fill="#c0c0c0" stroke="#1a1a1a" stroke-width="0.95"/>
<circle cx="1084.7" cy="993.1" r="3.6" fill="#c0c0c0" stroke="#1a1a1a" stroke-width="0.95"/>
<circle cx="1088.8" cy="992.0" r="3.6" fill="#c0c0c0" stroke="#1a1a1a" stroke-width="0.95"/>
<circle cx="1083.4" cy="990.6" r="3.6" fill="#c0c0c0" stroke="#1a1a1a" stroke-width="0.95"/>
<circle cx="1086.3" cy="988.1" r="3.6" fill="#c0c0c0" stroke="#1a1a1a" stroke-width="0.95"/>
<circle cx="1088.9" cy="986.9" r="3.6" fill="#c0c0c0" stroke="#1a1a1a" stroke-width="0.95"/>
<circle cx="1084.8" cy="984.5" r="3.6" fill="#c0c0c0" stroke="#1a1a1a" stroke-width="0.95"/>
<circle cx="1088.8" cy="982.6" r="3.6" fill="#c0c0c0" stroke="#1a1a1a" stroke-width="0.95"/>
<circle cx="1078.4" cy="980.7" r="3.6" fill="#c0c0c0" stroke="#1a1a1a" stroke-width="0.95"/>
<circle cx="1084.8" cy="978.8" r="3.6" fill="#c0c0c0" stroke="#1a1a1a" stroke-width="0.95"/>
<circle cx="1091.2" cy="978.3" r="3.6" fill="#c0c0c0" stroke="#1a1a1a" stroke-width="0.95"/>
<circle cx="1080.9" cy="976.4" r="3.6" fill="#c0c0c0" stroke="#1a1a1a" stroke-width="0.95"/>
<circle cx="1087.3" cy="975.1" r="3.6" fill="#c0c0c0" stroke="#1a1a1a" stroke-width="0.95"/>
<circle cx="1093.6" cy="972.9" r="3.6" fill="#c0c0c0" stroke="#1a1a1a" stroke-width="0.95"/>
<circle cx="1083.4" cy="971.8" r="3.6" fill="#c0c0c0" stroke="#1a1a1a" stroke-width="0.95"/>
<circle cx="1089.7" cy="970.8" r="3.6" fill="#c0c0c0" stroke="#1a1a1a" stroke-width="0.95"/>
<circle cx="1079.6" cy="968.6" r="3.6" fill="#c0c0c0" stroke="#1a1a1a" stroke-width="0.95"/>
<circle cx="1085.8" cy="967.0" r="3.6" fill="#c0c0c0" stroke="#1a1a1a" stroke-width="0.95"/>
<circle cx="1092.0" cy="965.8" r="3.6" fill="#c0c0c0" stroke="#1a1a1a" stroke-width="0.95"/>
<circle cx="1082.0" cy="964.7" r="3.6" fill="#c0c0c0" stroke="#1a1a1a" stroke-width="0.95"/>
<circle cx="1088.1" cy="962.3" r="3.6" fill="#c0c0c0" stroke="#1a1a1a" stroke-width="0.95"/>
<circle cx="1091.2" cy="960.5" r="3.6" fill="#c0c0c0" stroke="#1a1a1a" stroke-width="0.95"/>
<circle cx="1085.1" cy="958.0" r="3.6" fill="#c0c0c0" stroke="#1a1a1a" stroke-width="0.95"/>
<circle cx="1088.8" cy="955.5" r="3.6" fill="#c0c0c0" stroke="#1a1a1a" stroke-width="0.95"/>
<circle cx="1082.9" cy="953.7" r="3.6" fill="#c0c0c0" stroke="#1a1a1a" stroke-width="0.95"/>
<circle cx="1086.5" cy="950.8" r="3.6" fill="#c0c0c0" stroke="#1a1a1a" stroke-width="0.95"/>
<circle cx="1090.1" cy="948.6" r="3.6" fill="#c0c0c0" stroke="#1a1a1a" stroke-width="0.95"/>
<circle cx="1084.3" cy="945.9" r="3.6" fill="#c0c0c0" stroke="#1a1a1a" stroke-width="0.95"/>
<circle cx="1087.9" cy="944.1" r="3.6" fill="#c0c0c0" stroke="#1a1a1a" stroke-width="0.95"/>
<circle cx="1082.2" cy="940.8" r="3.6" fill="#c0c0c0" stroke="#1a1a1a" stroke-width="0.95"/>
<circle cx="1085.0" cy="939.5" r="3.6" fill="#c0c0c0" stroke="#1a1a1a" stroke-width="0.95"/>
<circle cx="1092.2" cy="938.3" r="3.6" fill="#c0c0c0" stroke="#1a1a1a" stroke-width="0.95"/>
<circle cx="1081.0" cy="936.8" r="3.6" fill="#c0c0c0" stroke="#1a1a1a" stroke-width="0.95"/>
<circle cx="1087.6" cy="935.3" r="3.6" fill="#c0c0c0" stroke="#1a1a1a" stroke-width="0.95"/>
<circle cx="1093.5" cy="933.8" r="3.6" fill="#c0c0c0" stroke="#1a1a1a" stroke-width="0.95"/>
<circle cx="1084.0" cy="932.2" r="3.6" fill="#c0c0c0" stroke="#1a1a1a" stroke-width="0.95"/>
<circle cx="1089.4" cy="930.6" r="3.6" fill="#c0c0c0" stroke="#1a1a1a" stroke-width="0.95"/>
<circle cx="1081.4" cy="929.4" r="3.6" fill="#c0c0c0" stroke="#1a1a1a" stroke-width="0.95"/>
<circle cx="1086.2" cy="928.4" r="3.6" fill="#c0c0c0" stroke="#1a1a1a" stroke-width="0.95"/>
<circle cx="1090.2" cy="926.7" r="3.6" fill="#c0c0c0" stroke="#1a1a1a" stroke-width="0.95"/>
<circle cx="1085.1" cy="922.7" r="3.6" fill="#c0c0c0" stroke="#1a1a1a" stroke-width="0.95"/>
<circle cx="1086.9" cy="919.2" r="3.6" fill="#c0c0c0" stroke="#1a1a1a" stroke-width="0.95"/>
<circle cx="1084.2" cy="915.8" r="3.6" fill="#c0c0c0" stroke="#1a1a1a" stroke-width="0.95"/>
<circle cx="1085.9" cy="913.1" r="3.6" fill="#c0c0c0" stroke="#1a1a1a" stroke-width="0.95"/>
<circle cx="1087.4" cy="909.5" r="3.6" fill="#c0c0c0" stroke="#1a1a1a" stroke-width="0.95"/>
<circle cx="1085.0" cy="906.0" r="3.6" fill="#c0c0c0" stroke="#1a1a1a" stroke-width="0.95"/>
<circle cx="1086.5" cy="901.7" r="3.6" fill="#c0c0c0" stroke="#1a1a1a" stroke-width="0.95"/>
<circle cx="1087.7" cy="898.4" r="3.6" fill="#c0c0c0" stroke="#1a1a1a" stroke-width="0.95"/>
<circle cx="1085.7" cy="894.2" r="3.6" fill="#c0c0c0" stroke="#1a1a1a" stroke-width="0.95"/>
<circle cx="1068.6" cy="1013.6" r="3.6" fill="#c0c0c0" stroke="#1a1a1a" stroke-width="0.95"/>
<circle cx="1073.3" cy="1013.3" r="3.6" fill="#c0c0c0" stroke="#1a1a1a" stroke-width="0.95"/>
<circle cx="1086.1" cy="1013.3" r="3.6" fill="#c0c0c0" stroke="#1a1a1a" stroke-width="0.95"/>
<circle cx="1099.3" cy="1013.5" r="3.6" fill="#c0c0c0" stroke="#1a1a1a" stroke-width="0.95"/>
<circle cx="1082.1" cy="1013.3" r="3.6" fill="#c0c0c0" stroke="#1a1a1a" stroke-width="0.95"/>
<circle cx="1103.9" cy="1013.3" r="3.6" fill="#c0c0c0" stroke="#1a1a1a" stroke-width="0.95"/>
<circle cx="1091.0" cy="1013.5" r="3.6" fill="#c0c0c0" stroke="#1a1a1a" stroke-width="0.95"/>
<circle cx="1094.6" cy="1013.3" r="3.6" fill="#c0c0c0" stroke="#1a1a1a" stroke-width="0.95"/>
<circle cx="1077.1" cy="1013.4" r="3.6" fill="#c0c0c0" stroke="#1a1a1a" stroke-width="0.95"/>
<circle cx="1095.8" cy="1007.9" r="3.6" fill="#c0c0c0" stroke="#1a1a1a" stroke-width="0.95"/>
<circle cx="1084.4" cy="1007.7" r="3.6" fill="#c0c0c0" stroke="#1a1a1a" stroke-width="0.95"/>
<circle cx="1073.2" cy="1007.7" r="3.6" fill="#c0c0c0" stroke="#1a1a1a" stroke-width="0.95"/>
<circle cx="1101.2" cy="1008.3" r="3.6" fill="#c0c0c0" stroke="#1a1a1a" stroke-width="0.95"/>
<circle cx="1079.1" cy="1008.2" r="3.6" fill="#c0c0c0" stroke="#1a1a1a" stroke-width="0.95"/>
<circle cx="1090.4" cy="1008.2" r="3.6" fill="#c0c0c0" stroke="#1a1a1a" stroke-width="0.95"/>
<circle cx="1119.5" cy="1012.9" r="3.6" fill="#c0c0c0" stroke="#1a1a1a" stroke-width="0.95"/>
<circle cx="1147.2" cy="1012.9" r="3.6" fill="#c0c0c0" stroke="#1a1a1a" stroke-width="0.95"/>
<circle cx="1126.3" cy="1008.4" r="3.6" fill="#c0c0c0" stroke="#1a1a1a" stroke-width="0.95"/>
<circle cx="1133.2" cy="1008.4" r="3.6" fill="#c0c0c0" stroke="#1a1a1a" stroke-width="0.95"/>
<circle cx="1140.2" cy="1008.4" r="3.6" fill="#c0c0c0" stroke="#1a1a1a" stroke-width="0.95"/>
<circle cx="1154.2" cy="1008.1" r="3.6" fill="#c0c0c0" stroke="#1a1a1a" stroke-width="0.95"/>
<circle cx="1133.2" cy="1000.2" r="3.6" fill="#c0c0c0" stroke="#1a1a1a" stroke-width="0.95"/>
<circle cx="1140.2" cy="1000.2" r="3.6" fill="#c0c0c0" stroke="#1a1a1a" stroke-width="0.95"/>
<circle cx="1126.3" cy="996.8" r="3.6" fill="#c0c0c0" stroke="#1a1a1a" stroke-width="0.95"/>
<circle cx="1133.2" cy="987.8" r="3.6" fill="#c0c0c0" stroke="#1a1a1a" stroke-width="0.95"/>
<circle cx="1140.2" cy="985.3" r="3.6" fill="#c0c0c0" stroke="#1a1a1a" stroke-width="0.95"/>
<circle cx="1126.3" cy="978.7" r="3.6" fill="#c0c0c0" stroke="#1a1a1a" stroke-width="0.95"/>
<circle cx="1147.2" cy="978.5" r="3.6" fill="#c0c0c0" stroke="#1a1a1a" stroke-width="0.95"/>
<circle cx="1140.2" cy="976.3" r="3.6" fill="#c0c0c0" stroke="#1a1a1a" stroke-width="0.95"/>
<circle cx="1140.2" cy="961.7" r="3.6" fill="#c0c0c0" stroke="#1a1a1a" stroke-width="0.95"/>
<circle cx="1133.2" cy="959.1" r="3.6" fill="#c0c0c0" stroke="#1a1a1a" stroke-width="0.95"/>
<circle cx="1136.6" cy="949.8" r="3.6" fill="#c0c0c0" stroke="#1a1a1a" stroke-width="0.95"/>
<circle cx="1136.6" cy="814.8" r="3.6" fill="#c0c0c0" stroke="#1a1a1a" stroke-width="0.95"/>
<circle cx="1179.9" cy="1014.6" r="3.6" fill="#c0c0c0" stroke="#1a1a1a" stroke-width="0.95"/>
<circle cx="1190.0" cy="1012.2" r="3.6" fill="#c0c0c0" stroke="#1a1a1a" stroke-width="0.95"/>
<circle cx="1185.0" cy="1008.1" r="3.6" fill="#c0c0c0" stroke="#1a1a1a" stroke-width="0.95"/>
<circle cx="1195.1" cy="1008.1" r="3.6" fill="#c0c0c0" stroke="#1a1a1a" stroke-width="0.95"/>
<circle cx="1170.1" cy="1005.7" r="3.6" fill="#c0c0c0" stroke="#1a1a1a" stroke-width="0.95"/>
<circle cx="1179.9" cy="1004.2" r="3.6" fill="#c0c0c0" stroke="#1a1a1a" stroke-width="0.95"/>
<circle cx="1190.0" cy="1004.2" r="3.6" fill="#c0c0c0" stroke="#1a1a1a" stroke-width="0.95"/>
<circle cx="1195.1" cy="1000.6" r="3.6" fill="#c0c0c0" stroke="#1a1a1a" stroke-width="0.95"/>
<circle cx="1205.0" cy="1000.6" r="3.6" fill="#c0c0c0" stroke="#1a1a1a" stroke-width="0.95"/>
<circle cx="1185.0" cy="1000.2" r="3.6" fill="#c0c0c0" stroke="#1a1a1a" stroke-width="0.95"/>
<circle cx="1175.1" cy="998.8" r="3.6" fill="#c0c0c0" stroke="#1a1a1a" stroke-width="0.95"/>
<circle cx="1200.0" cy="998.5" r="3.6" fill="#c0c0c0" stroke="#1a1a1a" stroke-width="0.95"/>
<circle cx="1190.0" cy="995.8" r="3.6" fill="#c0c0c0" stroke="#1a1a1a" stroke-width="0.95"/>
<circle cx="1179.9" cy="991.9" r="3.6" fill="#c0c0c0" stroke="#1a1a1a" stroke-width="0.95"/>
<circle cx="1185.0" cy="991.9" r="3.6" fill="#c0c0c0" stroke="#1a1a1a" stroke-width="0.95"/>
<circle cx="1195.1" cy="989.6" r="3.6" fill="#c0c0c0" stroke="#1a1a1a" stroke-width="0.95"/>
<circle cx="1190.0" cy="987.8" r="3.6" fill="#c0c0c0" stroke="#1a1a1a" stroke-width="0.95"/>
<circle cx="1175.1" cy="985.6" r="3.6" fill="#c0c0c0" stroke="#1a1a1a" stroke-width="0.95"/>
<circle cx="1200.0" cy="985.6" r="3.6" fill="#c0c0c0" stroke="#1a1a1a" stroke-width="0.95"/>
<circle cx="1170.1" cy="985.0" r="3.6" fill="#c0c0c0" stroke="#1a1a1a" stroke-width="0.95"/>
<circle cx="1205.0" cy="982.4" r="3.6" fill="#c0c0c0" stroke="#1a1a1a" stroke-width="0.95"/>
<circle cx="1185.0" cy="975.1" r="3.6" fill="#c0c0c0" stroke="#1a1a1a" stroke-width="0.95"/>
<circle cx="1190.0" cy="972.8" r="3.6" fill="#c0c0c0" stroke="#1a1a1a" stroke-width="0.95"/>
<circle cx="1190.0" cy="958.5" r="3.6" fill="#c0c0c0" stroke="#1a1a1a" stroke-width="0.95"/>
<circle cx="1185.0" cy="957.5" r="3.6" fill="#c0c0c0" stroke="#1a1a1a" stroke-width="0.95"/>
<circle cx="1190.0" cy="944.0" r="3.6" fill="#c0c0c0" stroke="#1a1a1a" stroke-width="0.95"/>
<circle cx="1185.0" cy="943.8" r="3.6" fill="#c0c0c0" stroke="#1a1a1a" stroke-width="0.95"/>
<circle cx="1187.4" cy="863.0" r="3.6" fill="#c0c0c0" stroke="#1a1a1a" stroke-width="0.95"/>
<circle cx="1187.4" cy="847.9" r="3.6" fill="#c0c0c0" stroke="#1a1a1a" stroke-width="0.95"/>
<circle cx="1088.1" cy="834.0" r="4.1" fill="#f5000a" stroke="#3a0000" stroke-width="0.7"/>
<circle cx="1136.6" cy="834.0" r="4.1" fill="#f5000a" stroke="#3a0000" stroke-width="0.7"/>
<circle cx="1187.4" cy="834.0" r="4.1" fill="#f5000a" stroke="#3a0000" stroke-width="0.7"/>
<text transform="translate(1091.3 1048.3) rotate(-45)" font-size="24" text-anchor="end" fill="#000" stroke="#000" stroke-width="0.35">PXE2</text>
<text transform="translate(1141.6 1048.3) rotate(-45)" font-size="24" text-anchor="end" fill="#000" stroke="#000" stroke-width="0.35">hyb16</text>
<text transform="translate(1192.4 1048.3) rotate(-45)" font-size="24" text-anchor="end" fill="#000" stroke="#000" stroke-width="0.35">hyb17</text>
<circle cx="1225.0" cy="886.3" r="4.1" fill="#f5000a" stroke="#3a0000" stroke-width="0.7"/>
<circle cx="1225.0" cy="920.0" r="3.6" fill="#c0c0c0" stroke="#1a1a1a" stroke-width="0.95"/>
<text x="1239.5" y="893.3" font-size="19.8" text-anchor="start" fill="#e3000f" stroke="#e3000f" stroke-width="0.35" >on-target site</text>
<text x="1239.5" y="927.0" font-size="19.8" text-anchor="start" fill="#808080" stroke="#808080" stroke-width="0.35" >off-target sites</text>
<text x="1137" y="1141.0" font-size="23.2" text-anchor="middle" fill="#000" stroke="#000" stroke-width="0.35" >standard or hybrid gRNA</text>
<text x="1137" y="1168.4" font-size="23.2" text-anchor="middle" fill="#000" stroke="#000" stroke-width="0.35" >correction of <tspan font-style="italic">ABCC6</tspan> R1141X</text>
</g>
<g filter="url(#bl)" class="bl">
<text x="1563" y="696.1" font-size="23.2" text-anchor="middle" fill="#111" stroke="#111" stroke-width="0.35" >ONE-seq with SpRY-ABE8.8</text>
<text x="1563" y="723.9" font-size="23.2" text-anchor="middle" fill="#111" stroke="#111" stroke-width="0.35" >protein + PAH5 gRNA</text>
<text x="1537.6" y="760.1" font-size="14.2" text-anchor="middle" fill="#111" stroke="#111" stroke-width="0.35" >108</text>
<text x="1588.2" y="760.1" font-size="14.2" text-anchor="middle" fill="#111" stroke="#111" stroke-width="0.35" >24</text>
<text x="1420" y="881.5" font-size="23.2" text-anchor="middle" fill="#111" stroke="#111" stroke-width="0.35" transform="rotate(-90 1420 881.5)" >ONE-seq score (log scale)</text>
<line x1="1497.3" y1="798.9" x2="1508.3" y2="798.9" stroke="#111" stroke-width="2.5"/>
<text x="1493.8" y="807.1" font-size="23.2" text-anchor="end" fill="#111" stroke="#111" stroke-width="0.35" >1</text>
<line x1="1497.3" y1="905.2" x2="1508.3" y2="905.2" stroke="#111" stroke-width="2.5"/>
<text x="1493.8" y="913.4" font-size="23.2" text-anchor="end" fill="#111" stroke="#111" stroke-width="0.35" >0.1</text>
<line x1="1497.3" y1="1011.5" x2="1508.3" y2="1011.5" stroke="#111" stroke-width="2.5"/>
<text x="1493.8" y="1019.7" font-size="23.2" text-anchor="end" fill="#111" stroke="#111" stroke-width="0.35" >0.01</text>
<line x1="1508.3" y1="767.5" x2="1508.3" y2="1012.75" stroke="#111" stroke-width="2.5"/>
<line x1="1498" y1="1011.5" x2="1617.5" y2="1011.5" stroke="#111" stroke-width="2.5"/>
<line x1="1537.6" y1="1011.5" x2="1537.6" y2="1022.5" stroke="#111" stroke-width="2.5"/>
<line x1="1588.2" y1="1011.5" x2="1588.2" y2="1022.5" stroke="#111" stroke-width="2.5"/>
<circle cx="1537.6" cy="778.5" r="3.5" fill="#c0c0c0" stroke="#606060" stroke-width="1.0"/>
<circle cx="1537.6" cy="792.3" r="3.5" fill="#c0c0c0" stroke="#606060" stroke-width="1.0"/>
<circle cx="1537.6" cy="804.2" r="3.5" fill="#c0c0c0" stroke="#606060" stroke-width="1.0"/>
<circle cx="1535.2" cy="816.8" r="3.5" fill="#c0c0c0" stroke="#606060" stroke-width="1.0"/>
<circle cx="1539.8" cy="822.8" r="3.5" fill="#c0c0c0" stroke="#606060" stroke-width="1.0"/>
<circle cx="1537.6" cy="831.1" r="3.5" fill="#c0c0c0" stroke="#606060" stroke-width="1.0"/>
<circle cx="1544.0" cy="831.1" r="3.5" fill="#c0c0c0" stroke="#606060" stroke-width="1.0"/>
<circle cx="1532.6" cy="838.3" r="3.5" fill="#c0c0c0" stroke="#606060" stroke-width="1.0"/>
<circle cx="1539.8" cy="838.3" r="3.5" fill="#c0c0c0" stroke="#606060" stroke-width="1.0"/>
<circle cx="1538.6" cy="843.7" r="3.5" fill="#c0c0c0" stroke="#606060" stroke-width="1.0"/>
<circle cx="1536.2" cy="848.5" r="3.5" fill="#c0c0c0" stroke="#606060" stroke-width="1.0"/>
<circle cx="1539.8" cy="849.7" r="3.5" fill="#c0c0c0" stroke="#606060" stroke-width="1.0"/>
<circle cx="1541.2" cy="934.0" r="3.5" fill="#c0c0c0" stroke="#606060" stroke-width="1.0"/>
<circle cx="1536.9" cy="932.4" r="3.5" fill="#c0c0c0" stroke="#606060" stroke-width="1.0"/>
<circle cx="1529.9" cy="932.3" r="3.5" fill="#c0c0c0" stroke="#606060" stroke-width="1.0"/>
<circle cx="1543.9" cy="930.9" r="3.5" fill="#c0c0c0" stroke="#606060" stroke-width="1.0"/>
<circle cx="1532.5" cy="930.2" r="3.5" fill="#c0c0c0" stroke="#606060" stroke-width="1.0"/>
<circle cx="1539.6" cy="928.8" r="3.5" fill="#c0c0c0" stroke="#606060" stroke-width="1.0"/>
<circle cx="1546.8" cy="928.5" r="3.5" fill="#c0c0c0" stroke="#606060" stroke-width="1.0"/>
<circle cx="1535.2" cy="927.9" r="3.5" fill="#c0c0c0" stroke="#606060" stroke-width="1.0"/>
<circle cx="1542.4" cy="927.0" r="3.5" fill="#c0c0c0" stroke="#606060" stroke-width="1.0"/>
<circle cx="1530.6" cy="925.4" r="3.5" fill="#c0c0c0" stroke="#606060" stroke-width="1.0"/>
<circle cx="1537.9" cy="925.2" r="3.5" fill="#c0c0c0" stroke="#606060" stroke-width="1.0"/>
<circle cx="1545.3" cy="923.6" r="3.5" fill="#c0c0c0" stroke="#606060" stroke-width="1.0"/>
<circle cx="1533.3" cy="923.4" r="3.5" fill="#c0c0c0" stroke="#606060" stroke-width="1.0"/>
<circle cx="1540.8" cy="922.4" r="3.5" fill="#c0c0c0" stroke="#606060" stroke-width="1.0"/>
<circle cx="1528.6" cy="921.1" r="3.5" fill="#c0c0c0" stroke="#606060" stroke-width="1.0"/>
<circle cx="1536.1" cy="920.7" r="3.5" fill="#c0c0c0" stroke="#606060" stroke-width="1.0"/>
<circle cx="1543.8" cy="919.5" r="3.5" fill="#c0c0c0" stroke="#606060" stroke-width="1.0"/>
<circle cx="1531.4" cy="918.6" r="3.5" fill="#c0c0c0" stroke="#606060" stroke-width="1.0"/>
<circle cx="1539.1" cy="918.2" r="3.5" fill="#c0c0c0" stroke="#606060" stroke-width="1.0"/>
<circle cx="1546.8" cy="917.0" r="3.5" fill="#c0c0c0" stroke="#606060" stroke-width="1.0"/>
<circle cx="1534.3" cy="916.5" r="3.5" fill="#c0c0c0" stroke="#606060" stroke-width="1.0"/>
<circle cx="1542.1" cy="916.0" r="3.5" fill="#c0c0c0" stroke="#606060" stroke-width="1.0"/>
<circle cx="1529.3" cy="915.1" r="3.5" fill="#c0c0c0" stroke="#606060" stroke-width="1.0"/>
<circle cx="1537.2" cy="913.6" r="3.5" fill="#c0c0c0" stroke="#606060" stroke-width="1.0"/>
<circle cx="1545.2" cy="913.1" r="3.5" fill="#c0c0c0" stroke="#606060" stroke-width="1.0"/>
<circle cx="1532.3" cy="912.4" r="3.5" fill="#c0c0c0" stroke="#606060" stroke-width="1.0"/>
<circle cx="1540.3" cy="910.8" r="3.5" fill="#c0c0c0" stroke="#606060" stroke-width="1.0"/>
<circle cx="1527.2" cy="910.5" r="3.5" fill="#c0c0c0" stroke="#606060" stroke-width="1.0"/>
<circle cx="1535.3" cy="909.6" r="3.5" fill="#c0c0c0" stroke="#606060" stroke-width="1.0"/>
<circle cx="1543.5" cy="909.0" r="3.5" fill="#c0c0c0" stroke="#606060" stroke-width="1.0"/>
<circle cx="1530.2" cy="907.9" r="3.5" fill="#c0c0c0" stroke="#606060" stroke-width="1.0"/>
<circle cx="1538.4" cy="907.2" r="3.5" fill="#c0c0c0" stroke="#606060" stroke-width="1.0"/>
<circle cx="1546.8" cy="906.2" r="3.5" fill="#c0c0c0" stroke="#606060" stroke-width="1.0"/>
<circle cx="1533.3" cy="905.2" r="3.5" fill="#c0c0c0" stroke="#606060" stroke-width="1.0"/>
<circle cx="1542.8" cy="904.8" r="3.5" fill="#c0c0c0" stroke="#606060" stroke-width="1.0"/>
<circle cx="1525.4" cy="903.9" r="3.5" fill="#c0c0c0" stroke="#606060" stroke-width="1.0"/>
<circle cx="1536.1" cy="903.2" r="3.5" fill="#c0c0c0" stroke="#606060" stroke-width="1.0"/>
<circle cx="1529.4" cy="902.0" r="3.5" fill="#c0c0c0" stroke="#606060" stroke-width="1.0"/>
<circle cx="1546.9" cy="901.9" r="3.5" fill="#c0c0c0" stroke="#606060" stroke-width="1.0"/>
<circle cx="1551.2" cy="900.4" r="3.5" fill="#c0c0c0" stroke="#606060" stroke-width="1.0"/>
<circle cx="1540.3" cy="900.3" r="3.5" fill="#c0c0c0" stroke="#606060" stroke-width="1.0"/>
<circle cx="1533.5" cy="899.4" r="3.5" fill="#c0c0c0" stroke="#606060" stroke-width="1.0"/>
<circle cx="1526.6" cy="898.4" r="3.5" fill="#c0c0c0" stroke="#606060" stroke-width="1.0"/>
<circle cx="1544.5" cy="898.1" r="3.5" fill="#c0c0c0" stroke="#606060" stroke-width="1.0"/>
<circle cx="1537.7" cy="897.4" r="3.5" fill="#c0c0c0" stroke="#606060" stroke-width="1.0"/>
<circle cx="1548.8" cy="896.1" r="3.5" fill="#c0c0c0" stroke="#606060" stroke-width="1.0"/>
<circle cx="1530.8" cy="895.2" r="3.5" fill="#c0c0c0" stroke="#606060" stroke-width="1.0"/>
<circle cx="1542.0" cy="894.7" r="3.5" fill="#c0c0c0" stroke="#606060" stroke-width="1.0"/>
<circle cx="1523.8" cy="894.1" r="3.5" fill="#c0c0c0" stroke="#606060" stroke-width="1.0"/>
<circle cx="1535.0" cy="893.3" r="3.5" fill="#c0c0c0" stroke="#606060" stroke-width="1.0"/>
<circle cx="1546.4" cy="892.3" r="3.5" fill="#c0c0c0" stroke="#606060" stroke-width="1.0"/>
<circle cx="1539.4" cy="891.5" r="3.5" fill="#c0c0c0" stroke="#606060" stroke-width="1.0"/>
<circle cx="1528.0" cy="891.5" r="3.5" fill="#c0c0c0" stroke="#606060" stroke-width="1.0"/>
<circle cx="1550.8" cy="890.8" r="3.5" fill="#c0c0c0" stroke="#606060" stroke-width="1.0"/>
<circle cx="1530.9" cy="889.6" r="3.5" fill="#c0c0c0" stroke="#606060" stroke-width="1.0"/>
<circle cx="1521.9" cy="888.8" r="3.5" fill="#c0c0c0" stroke="#606060" stroke-width="1.0"/>
<circle cx="1545.4" cy="888.7" r="3.5" fill="#c0c0c0" stroke="#606060" stroke-width="1.0"/>
<circle cx="1550.9" cy="887.6" r="3.5" fill="#c0c0c0" stroke="#606060" stroke-width="1.0"/>
<circle cx="1536.4" cy="887.4" r="3.5" fill="#c0c0c0" stroke="#606060" stroke-width="1.0"/>
<circle cx="1527.5" cy="886.7" r="3.5" fill="#c0c0c0" stroke="#606060" stroke-width="1.0"/>
<circle cx="1542.0" cy="886.4" r="3.5" fill="#c0c0c0" stroke="#606060" stroke-width="1.0"/>
<circle cx="1533.0" cy="885.2" r="3.5" fill="#c0c0c0" stroke="#606060" stroke-width="1.0"/>
<circle cx="1556.5" cy="885.2" r="3.5" fill="#c0c0c0" stroke="#606060" stroke-width="1.0"/>
<circle cx="1547.5" cy="883.5" r="3.5" fill="#c0c0c0" stroke="#606060" stroke-width="1.0"/>
<circle cx="1524.0" cy="883.4" r="3.5" fill="#c0c0c0" stroke="#606060" stroke-width="1.0"/>
<circle cx="1538.5" cy="883.4" r="3.5" fill="#c0c0c0" stroke="#606060" stroke-width="1.0"/>
<circle cx="1553.1" cy="882.7" r="3.5" fill="#c0c0c0" stroke="#606060" stroke-width="1.0"/>
<circle cx="1529.6" cy="881.1" r="3.5" fill="#c0c0c0" stroke="#606060" stroke-width="1.0"/>
<circle cx="1520.6" cy="880.9" r="3.5" fill="#c0c0c0" stroke="#606060" stroke-width="1.0"/>
<circle cx="1544.1" cy="880.6" r="3.5" fill="#c0c0c0" stroke="#606060" stroke-width="1.0"/>
<circle cx="1535.8" cy="879.7" r="3.5" fill="#c0c0c0" stroke="#606060" stroke-width="1.0"/>
<circle cx="1545.7" cy="878.0" r="3.5" fill="#c0c0c0" stroke="#606060" stroke-width="1.0"/>
<circle cx="1530.3" cy="876.2" r="3.5" fill="#c0c0c0" stroke="#606060" stroke-width="1.0"/>
<circle cx="1539.4" cy="875.8" r="3.5" fill="#c0c0c0" stroke="#606060" stroke-width="1.0"/>
<circle cx="1547.3" cy="874.0" r="3.5" fill="#c0c0c0" stroke="#606060" stroke-width="1.0"/>
<circle cx="1534.6" cy="872.4" r="3.5" fill="#c0c0c0" stroke="#606060" stroke-width="1.0"/>
<circle cx="1541.7" cy="870.9" r="3.5" fill="#c0c0c0" stroke="#606060" stroke-width="1.0"/>
<circle cx="1531.2" cy="870.0" r="3.5" fill="#c0c0c0" stroke="#606060" stroke-width="1.0"/>
<circle cx="1537.5" cy="868.5" r="3.5" fill="#c0c0c0" stroke="#606060" stroke-width="1.0"/>
<circle cx="1544.6" cy="867.5" r="3.5" fill="#c0c0c0" stroke="#606060" stroke-width="1.0"/>
<circle cx="1533.0" cy="865.6" r="3.5" fill="#c0c0c0" stroke="#606060" stroke-width="1.0"/>
<circle cx="1540.1" cy="865.2" r="3.5" fill="#c0c0c0" stroke="#606060" stroke-width="1.0"/>
<circle cx="1528.8" cy="863.6" r="3.5" fill="#c0c0c0" stroke="#606060" stroke-width="1.0"/>
<circle cx="1535.8" cy="862.2" r="3.5" fill="#c0c0c0" stroke="#606060" stroke-width="1.0"/>
<circle cx="1542.7" cy="860.3" r="3.5" fill="#c0c0c0" stroke="#606060" stroke-width="1.0"/>
<circle cx="1531.7" cy="859.1" r="3.5" fill="#c0c0c0" stroke="#606060" stroke-width="1.0"/>
<circle cx="1538.4" cy="858.2" r="3.5" fill="#c0c0c0" stroke="#606060" stroke-width="1.0"/>
<circle cx="1545.0" cy="857.4" r="3.5" fill="#c0c0c0" stroke="#606060" stroke-width="1.0"/>
<circle cx="1534.4" cy="855.5" r="3.5" fill="#c0c0c0" stroke="#606060" stroke-width="1.0"/>
<circle cx="1539.1" cy="941.6" r="3.5" fill="#c0c0c0" stroke="#606060" stroke-width="1.0"/>
<circle cx="1535.6" cy="947.5" r="3.5" fill="#c0c0c0" stroke="#606060" stroke-width="1.0"/>
<circle cx="1537.6" cy="965.5" r="3.5" fill="#c0c0c0" stroke="#606060" stroke-width="1.0"/>
<circle cx="1537.6" cy="972.0" r="3.5" fill="#c0c0c0" stroke="#606060" stroke-width="1.0"/>
<circle cx="1539.1" cy="994.8" r="3.5" fill="#c0c0c0" stroke="#606060" stroke-width="1.0"/>
<circle cx="1535.6" cy="998.4" r="3.5" fill="#c0c0c0" stroke="#606060" stroke-width="1.0"/>
<circle cx="1584.0" cy="798.5" r="3.5" fill="#c0c0c0" stroke="#606060" stroke-width="1.0"/>
<circle cx="1587.8" cy="817.1" r="3.5" fill="#c0c0c0" stroke="#606060" stroke-width="1.0"/>
<circle cx="1587.8" cy="843.1" r="3.5" fill="#c0c0c0" stroke="#606060" stroke-width="1.0"/>
<circle cx="1587.8" cy="878.1" r="3.5" fill="#c0c0c0" stroke="#606060" stroke-width="1.0"/>
<circle cx="1584.0" cy="959.9" r="3.5" fill="#c0c0c0" stroke="#606060" stroke-width="1.0"/>
<circle cx="1591.2" cy="962.5" r="3.5" fill="#c0c0c0" stroke="#606060" stroke-width="1.0"/>
<circle cx="1588.2" cy="969.7" r="3.5" fill="#c0c0c0" stroke="#606060" stroke-width="1.0"/>
<circle cx="1584.6" cy="981.6" r="3.5" fill="#c0c0c0" stroke="#606060" stroke-width="1.0"/>
<circle cx="1591.8" cy="981.6" r="3.5" fill="#c0c0c0" stroke="#606060" stroke-width="1.0"/>
<circle cx="1588.2" cy="987.6" r="3.5" fill="#c0c0c0" stroke="#606060" stroke-width="1.0"/>
<circle cx="1570.3" cy="991.8" r="3.5" fill="#c0c0c0" stroke="#606060" stroke-width="1.0"/>
<circle cx="1572.1" cy="998.4" r="3.5" fill="#c0c0c0" stroke="#606060" stroke-width="1.0"/>
<circle cx="1576.8" cy="998.4" r="3.5" fill="#c0c0c0" stroke="#606060" stroke-width="1.0"/>
<circle cx="1584.0" cy="998.4" r="3.5" fill="#c0c0c0" stroke="#606060" stroke-width="1.0"/>
<circle cx="1588.2" cy="998.4" r="3.5" fill="#c0c0c0" stroke="#606060" stroke-width="1.0"/>
<circle cx="1601.9" cy="998.4" r="3.5" fill="#c0c0c0" stroke="#606060" stroke-width="1.0"/>
<circle cx="1606.7" cy="998.4" r="3.5" fill="#c0c0c0" stroke="#606060" stroke-width="1.0"/>
<circle cx="1570.3" cy="1005.5" r="3.5" fill="#c0c0c0" stroke="#606060" stroke-width="1.0"/>
<circle cx="1584.0" cy="1005.5" r="3.5" fill="#c0c0c0" stroke="#606060" stroke-width="1.0"/>
<circle cx="1588.2" cy="1005.5" r="3.5" fill="#c0c0c0" stroke="#606060" stroke-width="1.0"/>
<circle cx="1593.6" cy="1005.5" r="3.5" fill="#c0c0c0" stroke="#606060" stroke-width="1.0"/>
<circle cx="1598.4" cy="1005.5" r="3.5" fill="#c0c0c0" stroke="#606060" stroke-width="1.0"/>
<circle cx="1537.6" cy="798.9" r="4.0" fill="#f22a10" stroke="#c02010" stroke-width="0.6"/>
<circle cx="1589.4" cy="798.9" r="4.0" fill="#f22a10" stroke="#c02010" stroke-width="0.6"/>
<text transform="translate(1542.6 1043.1) rotate(-45)" font-size="24" text-anchor="end" fill="#111" stroke="#111" stroke-width="0.35">PAH5</text>
<text transform="translate(1593.2 1043.1) rotate(-45)" font-size="24" text-anchor="end" fill="#111" stroke="#111" stroke-width="0.35">hyb17</text>
<circle cx="1624.3" cy="882.5" r="4.0" fill="#f22a10" stroke="#c02010" stroke-width="0.6"/>
<circle cx="1624.3" cy="915.6" r="3.5" fill="#c0c0c0" stroke="#606060" stroke-width="1.0"/>
<text x="1637.8" y="889.5" font-size="19.8" text-anchor="start" fill="#f03a1c" stroke="#f03a1c">on-target site</text>
<text x="1637.8" y="922.6" font-size="19.8" text-anchor="start" fill="#8a8a8a" stroke="#8a8a8a">off-target sites</text>
<text x="1563" y="1135.6" font-size="23.2" text-anchor="middle" fill="#111" stroke="#111" stroke-width="0.35" >standard or hybrid gRNA</text>
<text x="1563" y="1164.3" font-size="23.2" text-anchor="middle" fill="#111" stroke="#111" stroke-width="0.35" >correction of <tspan font-style="italic">PAH</tspan> c.1066–11G&gt;A</text>
</g>
</svg>
</body></html>
